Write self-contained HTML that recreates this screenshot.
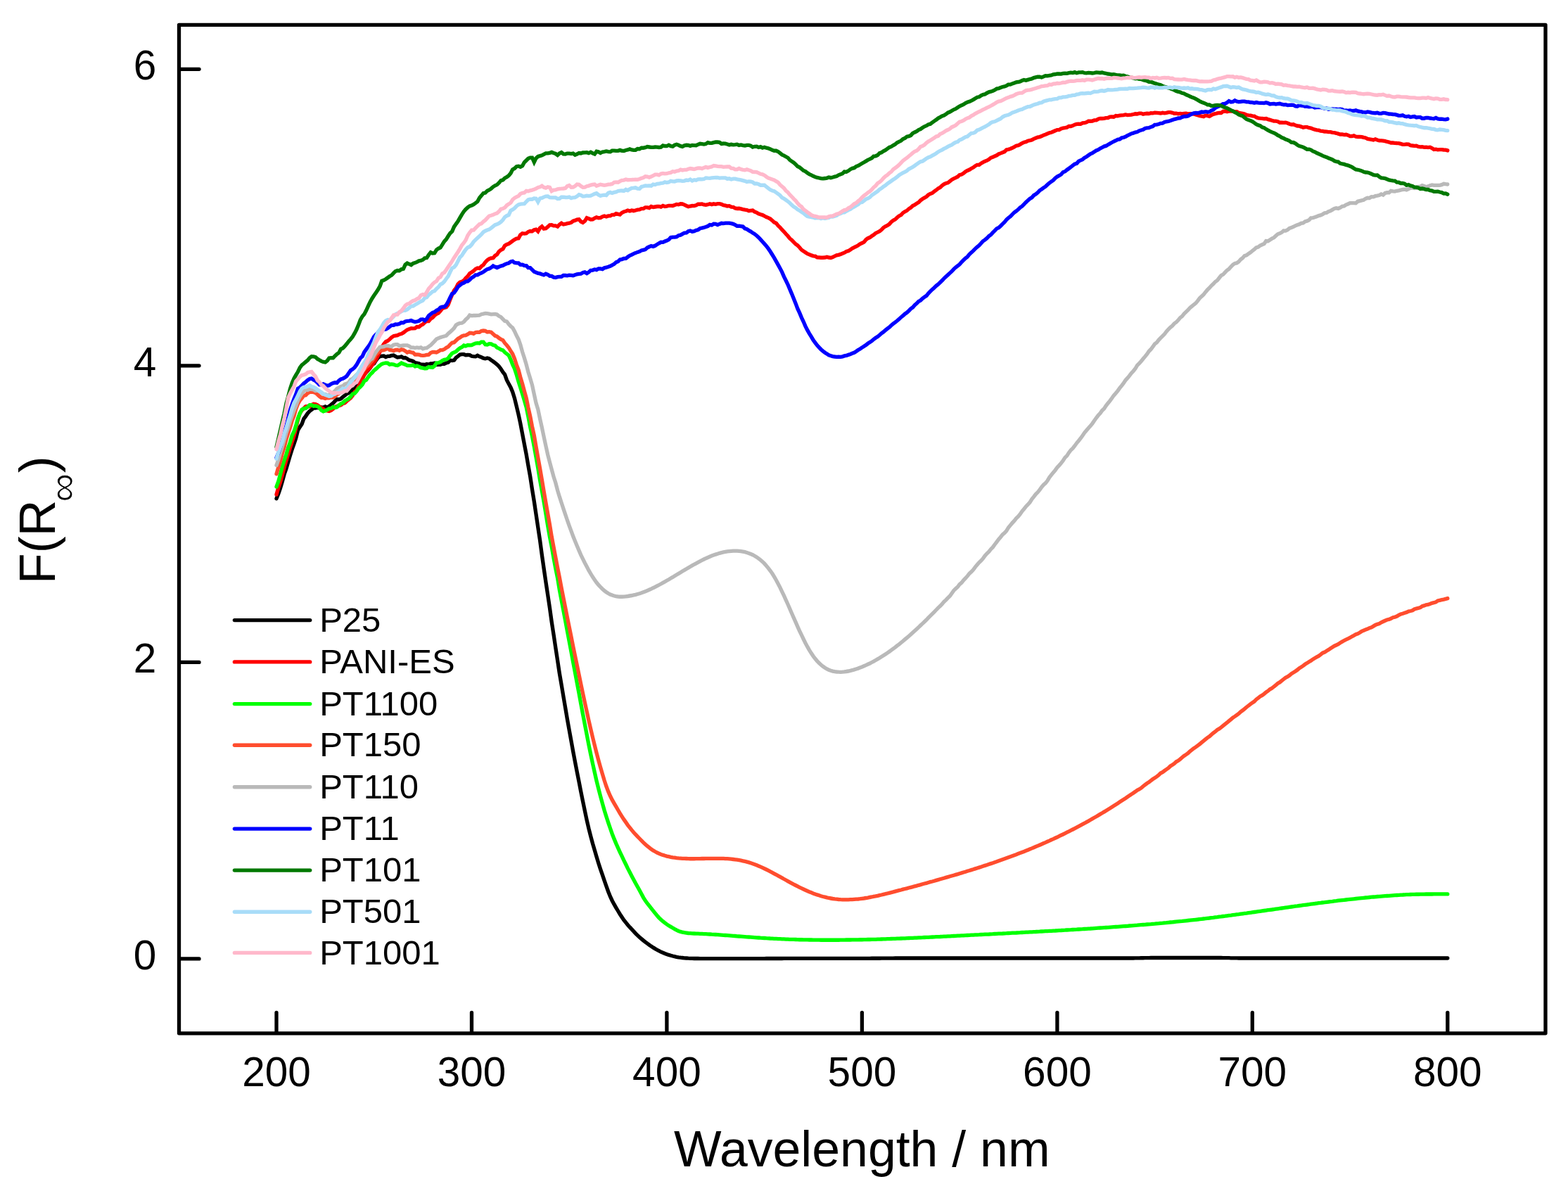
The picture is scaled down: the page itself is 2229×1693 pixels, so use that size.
<!DOCTYPE html>
<html lang="en"><head><meta charset="utf-8"><title>F(R∞) – Wavelength / nm</title>
<style>
html,body{margin:0;padding:0;background:#fff;}
body{width:2229px;height:1693px;overflow:hidden;}
svg{display:block;}
text{font-family:"Liberation Sans",Arial,Helvetica,sans-serif;fill:#000;}
.tick{font-size:58.5px;}
.leg{font-size:49px;}
.title{font-size:71.6px;}
.curve{fill:none;stroke-width:5.35;stroke-linejoin:miter;stroke-miterlimit:3;stroke-linecap:round;}
</style></head>
<body>
<svg xmlns="http://www.w3.org/2000/svg" width="2229" height="1693" viewBox="0 0 2229 1693">
<rect x="0" y="0" width="2229" height="1693" fill="#ffffff"/>
<g id="curves">
<path class="curve" stroke="#000000" d="M393.0,708.8 L395.8,701.9 L398.5,694.0 L401.3,684.5 L404.1,674.2 L406.9,666.3 L409.6,657.0 L412.4,647.5 L415.2,638.7 L418.0,630.9 L420.7,622.7 L423.5,611.5 L426.3,606.9 L429.1,602.7 L431.8,595.3 L434.6,591.6 L437.4,587.4 L440.2,584.4 L442.9,582.4 L445.7,580.1 L448.5,580.1 L451.3,579.5 L454.0,579.7 L456.8,578.9 L459.6,579.3 L462.4,578.0 L465.1,579.2 L467.9,577.4 L470.7,575.4 L473.5,573.0 L476.2,570.1 L479.0,567.5 L481.8,567.7 L484.6,566.8 L487.3,564.3 L490.1,562.2 L492.9,559.9 L495.7,558.6 L498.4,556.5 L501.2,553.7 L504.0,551.9 L506.8,548.0 L509.5,545.2 L512.3,543.1 L515.1,537.4 L517.9,532.4 L520.6,529.3 L523.4,526.2 L526.2,523.0 L529.0,518.4 L531.7,516.7 L534.5,512.4 L537.3,508.7 L540.1,506.6 L542.8,506.1 L545.6,505.9 L548.4,507.6 L551.2,506.4 L553.9,506.3 L556.7,505.4 L559.5,505.0 L562.3,506.6 L565.0,508.0 L567.8,507.7 L570.6,506.9 L573.4,508.7 L576.1,508.5 L578.9,510.0 L581.7,511.9 L584.5,512.6 L587.2,513.5 L590.0,515.6 L592.8,516.1 L595.6,516.7 L598.3,518.1 L601.1,518.1 L603.9,518.5 L606.6,517.6 L609.4,518.2 L612.2,516.9 L615.0,516.8 L617.7,516.2 L620.5,518.5 L623.3,518.3 L626.1,518.4 L628.8,517.0 L631.6,517.3 L634.4,515.9 L637.2,515.2 L639.9,512.2 L642.7,512.6 L645.5,512.1 L648.3,508.3 L651.0,506.3 L653.8,504.1 L656.6,503.6 L659.4,503.7 L662.1,504.7 L664.9,504.5 L667.7,504.6 L670.5,506.3 L673.2,506.7 L676.0,506.9 L678.8,505.4 L681.6,506.9 L684.3,507.8 L687.1,509.1 L689.9,509.8 L692.7,509.0 L695.4,509.6 L698.2,511.9 L701.0,513.8 L703.8,515.9 L706.5,518.1 L709.3,520.8 L712.1,524.5 L714.9,528.9 L717.6,532.3 L720.4,540.1 L723.2,545.6 L726.0,550.7 L728.7,557.2 L731.5,566.2 L734.3,577.6 L737.1,589.4 L739.8,602.0 L742.6,616.8 L745.4,631.5 L748.2,646.1 L750.9,661.8 L753.7,677.3 L756.5,695.6 L759.3,712.7 L762.0,730.8 L764.8,749.7 L767.6,768.2 L770.4,789.2 L773.1,808.0 L775.9,827.2 L778.7,845.7 L781.5,864.3 L784.2,883.8 L787.0,901.9 L789.8,920.6 L792.6,938.8 L795.3,956.8 L798.1,973.1 L800.9,989.9 L803.7,1006.2 L806.4,1022.2 L809.2,1037.9 L812.0,1053.2 L814.7,1068.2 L817.5,1083.0 L820.3,1097.4 L823.1,1111.6 L825.8,1125.5 L828.6,1139.2 L831.4,1152.8 L834.2,1166.0 L836.9,1177.7 L839.7,1188.6 L842.5,1199.0 L845.3,1208.5 L848.0,1217.8 L850.8,1227.0 L853.6,1235.6 L856.4,1243.7 L859.1,1251.6 L861.9,1259.6 L864.7,1267.5 L867.5,1274.4 L870.2,1280.2 L873.0,1285.4 L875.8,1290.3 L878.6,1295.0 L881.3,1299.5 L884.1,1303.8 L886.9,1307.9 L889.7,1311.4 L892.4,1314.7 L895.2,1317.9 L898.0,1320.9 L900.8,1323.9 L903.5,1326.8 L906.3,1329.6 L909.1,1332.2 L911.9,1334.6 L914.6,1336.9 L917.4,1339.1 L920.2,1341.2 L923.0,1343.2 L925.7,1345.1 L928.5,1346.9 L931.3,1348.6 L934.1,1350.2 L936.8,1351.7 L939.6,1353.1 L942.4,1354.3 L945.2,1355.4 L947.9,1356.4 L950.7,1357.4 L953.5,1358.2 L956.3,1359.0 L959.0,1359.7 L961.8,1360.3 L964.6,1360.8 L967.4,1361.2 L970.1,1361.5 L972.9,1361.8 L975.7,1362.0 L978.5,1362.2 L981.2,1362.3 L984.0,1362.4 L986.8,1362.5 L989.6,1362.5 L992.3,1362.5 L995.1,1362.6 L997.9,1362.6 L1000.7,1362.6 L1003.4,1362.6 L1006.2,1362.6 L1009.0,1362.6 L1011.8,1362.6 L1014.5,1362.6 L1017.3,1362.6 L1020.1,1362.6 L1022.8,1362.6 L1025.6,1362.6 L1028.4,1362.6 L1031.2,1362.6 L1033.9,1362.6 L1036.7,1362.6 L1039.5,1362.6 L1042.3,1362.6 L1045.0,1362.6 L1047.8,1362.6 L1050.6,1362.6 L1053.4,1362.6 L1056.1,1362.6 L1058.9,1362.6 L1061.7,1362.6 L1064.5,1362.6 L1067.2,1362.6 L1070.0,1362.6 L1072.8,1362.6 L1075.6,1362.6 L1078.3,1362.6 L1081.1,1362.6 L1083.9,1362.6 L1086.7,1362.6 L1089.4,1362.5 L1092.2,1362.5 L1095.0,1362.5 L1097.8,1362.5 L1100.5,1362.5 L1103.3,1362.5 L1106.1,1362.5 L1108.9,1362.5 L1111.6,1362.5 L1114.4,1362.4 L1117.2,1362.4 L1120.0,1362.4 L1122.7,1362.4 L1125.5,1362.4 L1128.3,1362.4 L1131.1,1362.4 L1133.8,1362.4 L1136.6,1362.4 L1139.4,1362.4 L1142.2,1362.4 L1144.9,1362.4 L1147.7,1362.4 L1150.5,1362.4 L1153.3,1362.4 L1156.0,1362.4 L1158.8,1362.4 L1161.6,1362.4 L1164.4,1362.4 L1167.1,1362.4 L1169.9,1362.4 L1172.7,1362.4 L1175.5,1362.4 L1178.2,1362.4 L1181.0,1362.4 L1183.8,1362.4 L1186.6,1362.4 L1189.3,1362.4 L1192.1,1362.4 L1194.9,1362.4 L1197.7,1362.4 L1200.4,1362.4 L1203.2,1362.4 L1206.0,1362.4 L1208.8,1362.4 L1211.5,1362.4 L1214.3,1362.4 L1217.1,1362.4 L1219.9,1362.4 L1222.6,1362.3 L1225.4,1362.3 L1228.2,1362.3 L1230.9,1362.3 L1233.7,1362.3 L1236.5,1362.3 L1239.3,1362.2 L1242.0,1362.2 L1244.8,1362.2 L1247.6,1362.2 L1250.4,1362.2 L1253.1,1362.1 L1255.9,1362.1 L1258.7,1362.1 L1261.5,1362.1 L1264.2,1362.1 L1267.0,1362.1 L1269.8,1362.1 L1272.6,1362.0 L1275.3,1362.0 L1278.1,1362.0 L1280.9,1362.0 L1283.7,1362.0 L1286.4,1362.0 L1289.2,1362.0 L1292.0,1362.0 L1294.8,1362.0 L1297.5,1362.0 L1300.3,1362.0 L1303.1,1362.0 L1305.9,1362.0 L1308.6,1362.0 L1311.4,1362.0 L1314.2,1362.0 L1317.0,1362.0 L1319.7,1362.0 L1322.5,1362.0 L1325.3,1362.0 L1328.1,1362.0 L1330.8,1362.0 L1333.6,1362.0 L1336.4,1362.0 L1339.2,1362.0 L1341.9,1362.0 L1344.7,1362.0 L1347.5,1362.0 L1350.3,1362.0 L1353.0,1362.0 L1355.8,1362.0 L1358.6,1362.0 L1361.4,1362.0 L1364.1,1362.0 L1366.9,1362.0 L1369.7,1362.0 L1372.5,1362.0 L1375.2,1362.0 L1378.0,1362.0 L1380.8,1362.0 L1383.6,1362.0 L1386.3,1362.0 L1389.1,1362.0 L1391.9,1362.0 L1394.7,1362.0 L1397.4,1362.0 L1400.2,1362.0 L1403.0,1362.0 L1405.8,1362.0 L1408.5,1362.0 L1411.3,1362.0 L1414.1,1362.0 L1416.9,1362.0 L1419.6,1362.0 L1422.4,1362.0 L1425.2,1362.0 L1428.0,1362.0 L1430.7,1362.0 L1433.5,1362.0 L1436.3,1362.0 L1439.0,1362.0 L1441.8,1362.0 L1444.6,1362.0 L1447.4,1362.0 L1450.1,1362.0 L1452.9,1362.0 L1455.7,1362.0 L1458.5,1362.0 L1461.2,1362.0 L1464.0,1362.0 L1466.8,1362.0 L1469.6,1362.0 L1472.3,1362.0 L1475.1,1362.0 L1477.9,1362.0 L1480.7,1362.0 L1483.4,1362.0 L1486.2,1362.0 L1489.0,1362.0 L1491.8,1362.0 L1494.5,1362.0 L1497.3,1362.0 L1500.1,1362.0 L1502.9,1362.0 L1505.6,1362.0 L1508.4,1362.0 L1511.2,1362.0 L1514.0,1362.0 L1516.7,1362.0 L1519.5,1362.0 L1522.3,1362.0 L1525.1,1362.0 L1527.8,1362.0 L1530.6,1362.0 L1533.4,1362.0 L1536.2,1362.0 L1538.9,1362.0 L1541.7,1362.0 L1544.5,1362.0 L1547.3,1362.0 L1550.0,1362.0 L1552.8,1362.0 L1555.6,1362.0 L1558.4,1362.0 L1561.1,1362.0 L1563.9,1362.0 L1566.7,1362.0 L1569.5,1362.0 L1572.2,1362.0 L1575.0,1362.0 L1577.8,1362.0 L1580.6,1362.0 L1583.3,1362.0 L1586.1,1362.0 L1588.9,1362.0 L1591.7,1362.0 L1594.4,1362.0 L1597.2,1362.0 L1600.0,1362.0 L1602.8,1362.0 L1605.5,1362.0 L1608.3,1362.0 L1611.1,1362.0 L1613.9,1361.9 L1616.6,1361.9 L1619.4,1361.8 L1622.2,1361.7 L1625.0,1361.7 L1627.7,1361.6 L1630.5,1361.6 L1633.3,1361.6 L1636.1,1361.5 L1638.8,1361.5 L1641.6,1361.5 L1644.4,1361.5 L1647.1,1361.5 L1649.9,1361.5 L1652.7,1361.5 L1655.5,1361.5 L1658.2,1361.5 L1661.0,1361.5 L1663.8,1361.5 L1666.6,1361.5 L1669.3,1361.5 L1672.1,1361.5 L1674.9,1361.5 L1677.7,1361.5 L1680.4,1361.5 L1683.2,1361.5 L1686.0,1361.5 L1688.8,1361.5 L1691.5,1361.5 L1694.3,1361.5 L1697.1,1361.5 L1699.9,1361.5 L1702.6,1361.5 L1705.4,1361.5 L1708.2,1361.5 L1711.0,1361.5 L1713.7,1361.5 L1716.5,1361.5 L1719.3,1361.5 L1722.1,1361.5 L1724.8,1361.5 L1727.6,1361.5 L1730.4,1361.5 L1733.2,1361.5 L1735.9,1361.5 L1738.7,1361.6 L1741.5,1361.6 L1744.3,1361.6 L1747.0,1361.7 L1749.8,1361.8 L1752.6,1361.8 L1755.4,1361.9 L1758.1,1361.9 L1760.9,1362.0 L1763.7,1362.0 L1766.5,1362.0 L1769.2,1362.0 L1772.0,1362.0 L1774.8,1362.0 L1777.6,1362.0 L1780.3,1362.0 L1783.1,1362.0 L1785.9,1362.0 L1788.7,1362.0 L1791.4,1362.0 L1794.2,1362.0 L1797.0,1362.0 L1799.8,1362.0 L1802.5,1362.0 L1805.3,1362.0 L1808.1,1362.0 L1810.9,1362.0 L1813.6,1362.0 L1816.4,1362.0 L1819.2,1362.0 L1822.0,1362.0 L1824.7,1362.0 L1827.5,1362.0 L1830.3,1362.0 L1833.1,1362.0 L1835.8,1362.0 L1838.6,1362.0 L1841.4,1362.0 L1844.2,1362.0 L1846.9,1362.0 L1849.7,1362.0 L1852.5,1362.0 L1855.2,1362.0 L1858.0,1362.0 L1860.8,1362.0 L1863.6,1362.0 L1866.3,1362.0 L1869.1,1362.0 L1871.9,1362.0 L1874.7,1362.0 L1877.4,1362.0 L1880.2,1362.0 L1883.0,1362.0 L1885.8,1362.0 L1888.5,1362.0 L1891.3,1362.0 L1894.1,1362.0 L1896.9,1362.0 L1899.6,1362.0 L1902.4,1362.0 L1905.2,1362.0 L1908.0,1362.0 L1910.7,1362.0 L1913.5,1362.0 L1916.3,1362.0 L1919.1,1362.0 L1921.8,1362.0 L1924.6,1362.0 L1927.4,1362.0 L1930.2,1362.0 L1932.9,1362.0 L1935.7,1362.0 L1938.5,1362.0 L1941.3,1362.0 L1944.0,1362.0 L1946.8,1362.0 L1949.6,1362.0 L1952.4,1362.0 L1955.1,1362.0 L1957.9,1362.0 L1960.7,1362.0 L1963.5,1362.0 L1966.2,1362.0 L1969.0,1362.0 L1971.8,1362.0 L1974.6,1362.0 L1977.3,1362.0 L1980.1,1362.0 L1982.9,1362.0 L1985.7,1362.0 L1988.4,1362.0 L1991.2,1362.0 L1994.0,1362.0 L1996.8,1362.0 L1999.5,1362.0 L2002.3,1362.0 L2005.1,1362.0 L2007.9,1362.0 L2010.6,1362.0 L2013.4,1362.0 L2016.2,1362.0 L2019.0,1362.0 L2021.7,1362.0 L2024.5,1362.0 L2027.3,1362.0 L2030.1,1362.0 L2032.8,1362.0 L2035.6,1362.0 L2038.4,1362.0 L2041.2,1362.0 L2043.9,1362.0 L2046.7,1362.0 L2049.5,1362.0 L2052.3,1362.0 L2055.0,1362.0 L2057.8,1362.0"/>
<path class="curve" stroke="#ff0000" d="M393.0,703.0 L395.8,693.0 L398.5,685.3 L401.3,675.4 L404.1,664.5 L406.9,654.6 L409.6,645.9 L412.4,636.7 L415.2,627.9 L418.0,619.8 L420.7,608.7 L423.5,596.6 L426.3,587.4 L429.1,583.3 L431.8,580.5 L434.6,577.8 L437.4,577.5 L440.2,577.7 L442.9,575.6 L445.7,574.3 L448.5,574.7 L451.3,575.9 L454.0,577.9 L456.8,579.9 L459.6,581.4 L462.4,583.4 L465.1,583.9 L467.9,584.4 L470.7,583.3 L473.5,581.3 L476.2,578.6 L479.0,577.5 L481.8,576.6 L484.6,575.9 L487.3,573.6 L490.1,572.9 L492.9,570.2 L495.7,567.9 L498.4,565.8 L501.2,562.3 L504.0,557.4 L506.8,555.2 L509.5,549.9 L512.3,544.7 L515.1,538.2 L517.9,532.8 L520.6,528.7 L523.4,525.2 L526.2,522.6 L529.0,518.8 L531.7,515.1 L534.5,511.2 L537.3,505.5 L540.1,500.1 L542.8,493.5 L545.6,489.0 L548.4,485.8 L551.2,484.5 L553.9,482.2 L556.7,479.6 L559.5,477.7 L562.3,477.2 L565.0,476.7 L567.8,475.2 L570.6,474.5 L573.4,472.9 L576.1,470.8 L578.9,468.9 L581.7,467.7 L584.5,466.7 L587.2,466.9 L590.0,466.7 L592.8,464.5 L595.6,464.7 L598.3,462.5 L601.1,461.0 L603.9,458.3 L606.6,456.5 L609.4,456.5 L612.2,453.3 L615.0,451.5 L617.7,448.4 L620.5,446.3 L623.3,445.0 L626.1,442.1 L628.8,438.5 L631.6,437.5 L634.4,436.6 L637.2,433.0 L639.9,425.6 L642.7,419.0 L645.5,413.0 L648.3,409.4 L651.0,403.9 L653.8,401.1 L656.6,400.4 L659.4,398.6 L662.1,395.4 L664.9,392.7 L667.7,388.7 L670.5,386.9 L673.2,385.1 L676.0,382.4 L678.8,381.0 L681.6,381.6 L684.3,378.6 L687.1,376.6 L689.9,372.7 L692.7,369.9 L695.4,368.0 L698.2,367.0 L701.0,366.7 L703.8,363.4 L706.5,361.8 L709.3,357.6 L712.1,355.3 L714.9,353.9 L717.6,349.2 L720.4,347.4 L723.2,346.5 L726.0,344.5 L728.7,342.5 L731.5,340.6 L734.3,339.1 L737.1,338.8 L739.8,333.8 L742.6,331.7 L745.4,332.1 L748.2,331.7 L750.9,329.5 L753.7,328.5 L756.5,328.8 L759.3,326.8 L762.0,326.1 L764.8,328.9 L767.6,324.1 L770.4,321.9 L773.1,325.1 L775.9,324.7 L778.7,322.4 L781.5,319.8 L784.2,319.7 L787.0,320.9 L789.8,320.9 L792.6,322.1 L795.3,319.2 L798.1,317.2 L800.9,319.0 L803.7,318.5 L806.4,317.7 L809.2,317.2 L812.0,316.4 L814.7,314.2 L817.5,313.4 L820.3,312.1 L823.1,311.8 L825.8,315.0 L828.6,316.4 L831.4,314.2 L834.2,309.8 L836.9,310.7 L839.7,312.0 L842.5,311.8 L845.3,310.2 L848.0,308.9 L850.8,309.7 L853.6,309.6 L856.4,307.9 L859.1,307.0 L861.9,308.0 L864.7,306.9 L867.5,306.9 L870.2,305.3 L873.0,305.3 L875.8,303.7 L878.6,304.4 L881.3,305.1 L884.1,302.4 L886.9,301.0 L889.7,300.3 L892.4,299.1 L895.2,300.0 L898.0,299.1 L900.8,299.7 L903.5,299.0 L906.3,298.1 L909.1,297.9 L911.9,296.6 L914.6,296.5 L917.4,294.8 L920.2,294.8 L923.0,295.5 L925.7,293.5 L928.5,294.5 L931.3,294.0 L934.1,293.5 L936.8,293.4 L939.6,294.1 L942.4,292.5 L945.2,293.5 L947.9,293.1 L950.7,292.3 L953.5,292.3 L956.3,292.5 L959.0,291.4 L961.8,290.4 L964.6,290.8 L967.4,289.8 L970.1,290.0 L972.9,291.1 L975.7,292.5 L978.5,293.7 L981.2,293.0 L984.0,292.5 L986.8,292.6 L989.6,291.7 L992.3,290.1 L995.1,290.2 L997.9,289.9 L1000.7,291.0 L1003.4,291.4 L1006.2,290.7 L1009.0,289.8 L1011.8,290.6 L1014.5,289.8 L1017.3,290.3 L1020.1,289.6 L1022.8,289.7 L1025.6,290.3 L1028.4,291.7 L1031.2,292.1 L1033.9,293.0 L1036.7,292.7 L1039.5,294.1 L1042.3,294.3 L1045.0,296.0 L1047.8,296.5 L1050.6,296.3 L1053.4,296.9 L1056.1,297.6 L1058.9,298.2 L1061.7,298.5 L1064.5,299.7 L1067.2,299.3 L1070.0,299.1 L1072.8,301.1 L1075.6,302.1 L1078.3,303.7 L1081.1,304.7 L1083.9,305.6 L1086.7,307.0 L1089.4,308.5 L1092.2,309.6 L1095.0,311.1 L1097.8,313.4 L1100.5,315.9 L1103.3,317.2 L1106.1,320.7 L1108.9,323.3 L1111.6,326.5 L1114.4,329.3 L1117.2,332.5 L1120.0,335.5 L1122.7,339.0 L1125.5,341.3 L1128.3,344.2 L1131.1,346.9 L1133.8,348.9 L1136.6,351.7 L1139.4,355.1 L1142.2,357.0 L1144.9,358.7 L1147.7,360.7 L1150.5,361.7 L1153.3,362.9 L1156.0,363.8 L1158.8,364.2 L1161.6,365.8 L1164.4,366.0 L1167.1,366.2 L1169.9,366.2 L1172.7,366.0 L1175.5,365.3 L1178.2,366.0 L1181.0,366.4 L1183.8,365.4 L1186.6,364.1 L1189.3,362.9 L1192.1,362.3 L1194.9,361.4 L1197.7,360.2 L1200.4,359.2 L1203.2,357.4 L1206.0,356.7 L1208.8,354.9 L1211.5,353.1 L1214.3,351.6 L1217.1,350.3 L1219.9,348.8 L1222.6,346.9 L1225.4,345.5 L1228.2,344.2 L1230.9,340.8 L1233.7,338.7 L1236.5,337.6 L1239.3,335.5 L1242.0,333.8 L1244.8,331.4 L1247.6,330.1 L1250.4,328.7 L1253.1,326.5 L1255.9,323.6 L1258.7,321.8 L1261.5,320.4 L1264.2,318.6 L1267.0,315.4 L1269.8,313.3 L1272.6,311.9 L1275.3,309.3 L1278.1,307.0 L1280.9,305.5 L1283.7,302.5 L1286.4,300.8 L1289.2,299.4 L1292.0,296.8 L1294.8,295.1 L1297.5,292.5 L1300.3,291.2 L1303.1,289.2 L1305.9,287.6 L1308.6,284.9 L1311.4,282.8 L1314.2,281.1 L1317.0,279.5 L1319.7,277.0 L1322.5,275.4 L1325.3,274.4 L1328.1,272.2 L1330.8,270.2 L1333.6,267.9 L1336.4,266.5 L1339.2,263.9 L1341.9,261.9 L1344.7,260.5 L1347.5,259.8 L1350.3,257.6 L1353.0,255.4 L1355.8,253.9 L1358.6,252.7 L1361.4,251.2 L1364.1,248.6 L1366.9,248.0 L1369.7,246.3 L1372.5,244.0 L1375.2,242.5 L1378.0,241.3 L1380.8,239.5 L1383.6,238.0 L1386.3,235.9 L1389.1,234.3 L1391.9,234.3 L1394.7,232.2 L1397.4,230.6 L1400.2,229.3 L1403.0,228.2 L1405.8,226.5 L1408.5,224.3 L1411.3,223.2 L1414.1,222.0 L1416.9,220.8 L1419.6,219.0 L1422.4,217.9 L1425.2,216.7 L1428.0,215.6 L1430.7,212.9 L1433.5,212.4 L1436.3,211.5 L1439.0,210.3 L1441.8,208.8 L1444.6,207.2 L1447.4,206.6 L1450.1,205.3 L1452.9,203.5 L1455.7,202.2 L1458.5,201.7 L1461.2,200.2 L1464.0,199.7 L1466.8,198.9 L1469.6,197.4 L1472.3,196.2 L1475.1,195.2 L1477.9,194.6 L1480.7,193.6 L1483.4,192.1 L1486.2,191.2 L1489.0,190.0 L1491.8,188.8 L1494.5,188.3 L1497.3,187.0 L1500.1,185.7 L1502.9,184.6 L1505.6,184.6 L1508.4,183.0 L1511.2,182.0 L1514.0,181.6 L1516.7,181.1 L1519.5,179.5 L1522.3,179.5 L1525.1,178.6 L1527.8,177.2 L1530.6,176.4 L1533.4,176.2 L1536.2,176.3 L1538.9,174.9 L1541.7,174.7 L1544.5,173.8 L1547.3,172.2 L1550.0,172.2 L1552.8,172.0 L1555.6,170.9 L1558.4,170.8 L1561.1,169.3 L1563.9,168.5 L1566.7,168.5 L1569.5,168.4 L1572.2,167.6 L1575.0,167.5 L1577.8,166.1 L1580.6,166.0 L1583.3,166.2 L1586.1,164.5 L1588.9,164.9 L1591.7,164.2 L1594.4,163.9 L1597.2,163.6 L1600.0,163.0 L1602.8,163.6 L1605.5,163.3 L1608.3,163.2 L1611.1,162.5 L1613.9,161.8 L1616.6,162.0 L1619.4,161.1 L1622.2,161.1 L1625.0,162.2 L1627.7,161.7 L1630.5,161.3 L1633.3,161.5 L1636.1,160.7 L1638.8,160.8 L1641.6,160.2 L1644.4,160.3 L1647.1,160.6 L1649.9,161.0 L1652.7,160.3 L1655.5,160.8 L1658.2,160.4 L1661.0,159.6 L1663.8,159.6 L1666.6,160.3 L1669.3,161.2 L1672.1,161.2 L1674.9,161.8 L1677.7,161.4 L1680.4,161.9 L1683.2,161.5 L1686.0,161.2 L1688.8,161.9 L1691.5,161.6 L1694.3,161.6 L1697.1,162.2 L1699.9,162.9 L1702.6,163.8 L1705.4,164.7 L1708.2,165.2 L1711.0,165.7 L1713.7,164.2 L1716.5,164.6 L1719.3,165.3 L1722.1,163.7 L1724.8,162.3 L1727.6,161.7 L1730.4,160.9 L1733.2,160.4 L1735.9,160.5 L1738.7,158.3 L1741.5,158.0 L1744.3,158.8 L1747.0,158.2 L1749.8,158.1 L1752.6,158.1 L1755.4,158.9 L1758.1,158.7 L1760.9,160.3 L1763.7,160.8 L1766.5,161.3 L1769.2,162.0 L1772.0,163.4 L1774.8,163.8 L1777.6,164.1 L1780.3,164.8 L1783.1,165.1 L1785.9,166.9 L1788.7,167.8 L1791.4,168.2 L1794.2,168.4 L1797.0,168.9 L1799.8,168.6 L1802.5,169.6 L1805.3,170.4 L1808.1,171.2 L1810.9,172.1 L1813.6,172.2 L1816.4,172.7 L1819.2,174.2 L1822.0,174.1 L1824.7,174.3 L1827.5,174.1 L1830.3,175.1 L1833.1,176.3 L1835.8,177.1 L1838.6,176.8 L1841.4,178.1 L1844.2,179.0 L1846.9,179.2 L1849.7,180.1 L1852.5,181.2 L1855.2,180.6 L1858.0,180.6 L1860.8,181.7 L1863.6,182.2 L1866.3,183.2 L1869.1,184.2 L1871.9,184.9 L1874.7,185.2 L1877.4,186.2 L1880.2,186.3 L1883.0,187.0 L1885.8,187.2 L1888.5,187.6 L1891.3,187.7 L1894.1,188.4 L1896.9,188.6 L1899.6,189.3 L1902.4,190.1 L1905.2,191.0 L1908.0,191.0 L1910.7,191.6 L1913.5,191.3 L1916.3,192.2 L1919.1,193.6 L1921.8,193.5 L1924.6,192.9 L1927.4,194.1 L1930.2,194.5 L1932.9,194.4 L1935.7,194.6 L1938.5,195.4 L1941.3,196.0 L1944.0,197.4 L1946.8,197.9 L1949.6,198.4 L1952.4,198.9 L1955.1,197.8 L1957.9,199.0 L1960.7,199.8 L1963.5,199.8 L1966.2,200.1 L1969.0,200.6 L1971.8,201.5 L1974.6,202.0 L1977.3,203.0 L1980.1,203.0 L1982.9,203.3 L1985.7,203.5 L1988.4,203.6 L1991.2,204.4 L1994.0,205.3 L1996.8,205.4 L1999.5,204.9 L2002.3,205.2 L2005.1,206.7 L2007.9,207.0 L2010.6,207.3 L2013.4,207.2 L2016.2,208.4 L2019.0,208.8 L2021.7,208.7 L2024.5,209.3 L2027.3,209.1 L2030.1,209.6 L2032.8,209.2 L2035.6,210.5 L2038.4,212.4 L2041.2,212.1 L2043.9,212.8 L2046.7,212.6 L2049.5,212.7 L2052.3,213.0 L2055.0,213.1 L2057.8,213.9"/>
<path class="curve" stroke="#00ff00" d="M393.0,691.9 L395.8,684.2 L398.5,674.2 L401.3,663.3 L404.1,654.3 L406.9,646.0 L409.6,636.7 L412.4,628.8 L415.2,618.9 L418.0,613.3 L420.7,605.2 L423.5,594.7 L426.3,587.7 L429.1,582.2 L431.8,580.8 L434.6,580.4 L437.4,578.4 L440.2,575.7 L442.9,575.6 L445.7,577.3 L448.5,576.9 L451.3,577.6 L454.0,579.5 L456.8,583.3 L459.6,584.9 L462.4,583.8 L465.1,582.6 L467.9,580.8 L470.7,580.4 L473.5,578.4 L476.2,579.4 L479.0,578.8 L481.8,576.1 L484.6,573.9 L487.3,572.7 L490.1,569.8 L492.9,568.2 L495.7,566.5 L498.4,564.0 L501.2,560.0 L504.0,559.3 L506.8,556.4 L509.5,552.3 L512.3,549.9 L515.1,546.7 L517.9,541.6 L520.6,540.2 L523.4,536.1 L526.2,532.3 L529.0,529.8 L531.7,526.6 L534.5,524.4 L537.3,521.7 L540.1,519.4 L542.8,517.4 L545.6,516.5 L548.4,515.9 L551.2,516.2 L553.9,518.1 L556.7,517.6 L559.5,518.0 L562.3,519.2 L565.0,519.5 L567.8,518.0 L570.6,516.0 L573.4,517.3 L576.1,518.2 L578.9,519.6 L581.7,519.6 L584.5,519.6 L587.2,518.9 L590.0,520.9 L592.8,520.1 L595.6,521.1 L598.3,522.6 L601.1,523.2 L603.9,523.7 L606.6,523.6 L609.4,521.6 L612.2,522.1 L615.0,522.2 L617.7,520.1 L620.5,515.8 L623.3,515.7 L626.1,514.6 L628.8,512.6 L631.6,511.4 L634.4,511.0 L637.2,509.2 L639.9,505.5 L642.7,502.2 L645.5,500.9 L648.3,499.7 L651.0,497.0 L653.8,494.9 L656.6,493.5 L659.4,491.0 L662.1,491.9 L664.9,490.5 L667.7,490.7 L670.5,490.5 L673.2,489.3 L676.0,488.1 L678.8,487.7 L681.6,488.0 L684.3,486.1 L687.1,486.1 L689.9,489.6 L692.7,489.9 L695.4,488.8 L698.2,488.9 L701.0,490.6 L703.8,491.2 L706.5,494.1 L709.3,495.3 L712.1,497.1 L714.9,497.8 L717.6,500.8 L720.4,503.0 L723.2,505.2 L726.0,511.1 L728.7,518.2 L731.5,524.1 L734.3,532.7 L737.1,542.5 L739.8,550.8 L742.6,560.0 L745.4,569.3 L748.2,579.0 L750.9,592.1 L753.7,606.9 L756.5,620.1 L759.3,634.8 L762.0,649.7 L764.8,665.6 L767.6,682.6 L770.4,698.1 L773.1,713.0 L775.9,730.0 L778.7,747.4 L781.5,763.2 L784.2,777.0 L787.0,793.1 L789.8,808.0 L792.6,821.6 L795.3,838.3 L798.1,853.0 L800.9,867.8 L803.7,882.5 L806.4,897.1 L809.2,911.8 L812.0,926.5 L814.7,941.3 L817.5,956.1 L820.3,970.9 L823.1,985.8 L825.8,1000.6 L828.6,1015.4 L831.4,1030.0 L834.2,1044.4 L836.9,1058.4 L839.7,1072.1 L842.5,1085.2 L845.3,1097.8 L848.0,1109.8 L850.8,1121.2 L853.6,1131.9 L856.4,1142.1 L859.1,1151.7 L861.9,1160.8 L864.7,1169.4 L867.5,1177.5 L870.2,1185.2 L873.0,1192.4 L875.8,1199.1 L878.6,1205.3 L881.3,1211.3 L884.1,1217.2 L886.9,1223.1 L889.7,1228.8 L892.4,1234.4 L895.2,1239.8 L898.0,1245.2 L900.8,1250.4 L903.5,1255.5 L906.3,1260.5 L909.1,1265.5 L911.9,1270.7 L914.6,1275.8 L917.4,1280.3 L920.2,1284.2 L923.0,1287.7 L925.7,1291.1 L928.5,1294.6 L931.3,1298.1 L934.1,1301.5 L936.8,1304.6 L939.6,1307.3 L942.4,1309.7 L945.2,1311.9 L947.9,1313.9 L950.7,1315.7 L953.5,1317.4 L956.3,1319.0 L959.0,1320.6 L961.8,1322.1 L964.6,1323.4 L967.4,1324.4 L970.1,1325.2 L972.9,1325.7 L975.7,1326.1 L978.5,1326.5 L981.2,1326.7 L984.0,1326.9 L986.8,1327.0 L989.6,1327.1 L992.3,1327.2 L995.1,1327.3 L997.9,1327.4 L1000.7,1327.6 L1003.4,1327.7 L1006.2,1327.8 L1009.0,1328.0 L1011.8,1328.2 L1014.5,1328.3 L1017.3,1328.5 L1020.1,1328.7 L1022.8,1328.9 L1025.6,1329.1 L1028.4,1329.3 L1031.2,1329.5 L1033.9,1329.7 L1036.7,1329.9 L1039.5,1330.1 L1042.3,1330.3 L1045.0,1330.5 L1047.8,1330.8 L1050.6,1331.0 L1053.4,1331.2 L1056.1,1331.4 L1058.9,1331.6 L1061.7,1331.8 L1064.5,1332.0 L1067.2,1332.2 L1070.0,1332.4 L1072.8,1332.6 L1075.6,1332.8 L1078.3,1333.0 L1081.1,1333.2 L1083.9,1333.3 L1086.7,1333.5 L1089.4,1333.7 L1092.2,1333.8 L1095.0,1334.0 L1097.8,1334.1 L1100.5,1334.3 L1103.3,1334.4 L1106.1,1334.6 L1108.9,1334.7 L1111.6,1334.8 L1114.4,1334.9 L1117.2,1335.1 L1120.0,1335.2 L1122.7,1335.3 L1125.5,1335.3 L1128.3,1335.4 L1131.1,1335.5 L1133.8,1335.6 L1136.6,1335.7 L1139.4,1335.7 L1142.2,1335.8 L1144.9,1335.9 L1147.7,1335.9 L1150.5,1336.0 L1153.3,1336.0 L1156.0,1336.1 L1158.8,1336.1 L1161.6,1336.1 L1164.4,1336.1 L1167.1,1336.2 L1169.9,1336.2 L1172.7,1336.2 L1175.5,1336.2 L1178.2,1336.2 L1181.0,1336.2 L1183.8,1336.2 L1186.6,1336.2 L1189.3,1336.2 L1192.1,1336.2 L1194.9,1336.1 L1197.7,1336.1 L1200.4,1336.1 L1203.2,1336.0 L1206.0,1336.0 L1208.8,1336.0 L1211.5,1335.9 L1214.3,1335.9 L1217.1,1335.8 L1219.9,1335.8 L1222.6,1335.7 L1225.4,1335.7 L1228.2,1335.6 L1230.9,1335.6 L1233.7,1335.5 L1236.5,1335.5 L1239.3,1335.4 L1242.0,1335.3 L1244.8,1335.3 L1247.6,1335.2 L1250.4,1335.1 L1253.1,1335.0 L1255.9,1334.9 L1258.7,1334.8 L1261.5,1334.7 L1264.2,1334.6 L1267.0,1334.5 L1269.8,1334.4 L1272.6,1334.3 L1275.3,1334.2 L1278.1,1334.1 L1280.9,1334.0 L1283.7,1333.9 L1286.4,1333.8 L1289.2,1333.6 L1292.0,1333.5 L1294.8,1333.4 L1297.5,1333.3 L1300.3,1333.2 L1303.1,1333.1 L1305.9,1332.9 L1308.6,1332.8 L1311.4,1332.7 L1314.2,1332.5 L1317.0,1332.4 L1319.7,1332.3 L1322.5,1332.1 L1325.3,1332.0 L1328.1,1331.9 L1330.8,1331.7 L1333.6,1331.6 L1336.4,1331.5 L1339.2,1331.3 L1341.9,1331.2 L1344.7,1331.1 L1347.5,1330.9 L1350.3,1330.8 L1353.0,1330.6 L1355.8,1330.5 L1358.6,1330.4 L1361.4,1330.2 L1364.1,1330.1 L1366.9,1329.9 L1369.7,1329.8 L1372.5,1329.6 L1375.2,1329.5 L1378.0,1329.4 L1380.8,1329.2 L1383.6,1329.1 L1386.3,1328.9 L1389.1,1328.8 L1391.9,1328.7 L1394.7,1328.5 L1397.4,1328.4 L1400.2,1328.2 L1403.0,1328.1 L1405.8,1328.0 L1408.5,1327.8 L1411.3,1327.7 L1414.1,1327.5 L1416.9,1327.4 L1419.6,1327.2 L1422.4,1327.1 L1425.2,1327.0 L1428.0,1326.8 L1430.7,1326.7 L1433.5,1326.5 L1436.3,1326.4 L1439.0,1326.2 L1441.8,1326.1 L1444.6,1326.0 L1447.4,1325.8 L1450.1,1325.7 L1452.9,1325.5 L1455.7,1325.4 L1458.5,1325.2 L1461.2,1325.1 L1464.0,1324.9 L1466.8,1324.8 L1469.6,1324.6 L1472.3,1324.5 L1475.1,1324.3 L1477.9,1324.2 L1480.7,1324.0 L1483.4,1323.9 L1486.2,1323.7 L1489.0,1323.6 L1491.8,1323.4 L1494.5,1323.3 L1497.3,1323.1 L1500.1,1323.0 L1502.9,1322.8 L1505.6,1322.6 L1508.4,1322.5 L1511.2,1322.3 L1514.0,1322.2 L1516.7,1322.0 L1519.5,1321.8 L1522.3,1321.7 L1525.1,1321.5 L1527.8,1321.3 L1530.6,1321.2 L1533.4,1321.0 L1536.2,1320.8 L1538.9,1320.7 L1541.7,1320.5 L1544.5,1320.3 L1547.3,1320.1 L1550.0,1320.0 L1552.8,1319.8 L1555.6,1319.6 L1558.4,1319.4 L1561.1,1319.2 L1563.9,1319.0 L1566.7,1318.9 L1569.5,1318.7 L1572.2,1318.5 L1575.0,1318.3 L1577.8,1318.1 L1580.6,1317.9 L1583.3,1317.7 L1586.1,1317.5 L1588.9,1317.3 L1591.7,1317.1 L1594.4,1316.9 L1597.2,1316.7 L1600.0,1316.5 L1602.8,1316.3 L1605.5,1316.0 L1608.3,1315.8 L1611.1,1315.6 L1613.9,1315.4 L1616.6,1315.2 L1619.4,1314.9 L1622.2,1314.7 L1625.0,1314.5 L1627.7,1314.3 L1630.5,1314.0 L1633.3,1313.8 L1636.1,1313.6 L1638.8,1313.3 L1641.6,1313.1 L1644.4,1312.8 L1647.1,1312.6 L1649.9,1312.3 L1652.7,1312.1 L1655.5,1311.8 L1658.2,1311.6 L1661.0,1311.3 L1663.8,1311.0 L1666.6,1310.8 L1669.3,1310.5 L1672.1,1310.2 L1674.9,1309.9 L1677.7,1309.6 L1680.4,1309.4 L1683.2,1309.1 L1686.0,1308.8 L1688.8,1308.5 L1691.5,1308.2 L1694.3,1307.9 L1697.1,1307.6 L1699.9,1307.3 L1702.6,1307.0 L1705.4,1306.6 L1708.2,1306.3 L1711.0,1306.0 L1713.7,1305.7 L1716.5,1305.3 L1719.3,1305.0 L1722.1,1304.6 L1724.8,1304.3 L1727.6,1303.9 L1730.4,1303.6 L1733.2,1303.2 L1735.9,1302.9 L1738.7,1302.5 L1741.5,1302.2 L1744.3,1301.8 L1747.0,1301.4 L1749.8,1301.1 L1752.6,1300.7 L1755.4,1300.3 L1758.1,1299.9 L1760.9,1299.6 L1763.7,1299.2 L1766.5,1298.8 L1769.2,1298.4 L1772.0,1298.1 L1774.8,1297.7 L1777.6,1297.3 L1780.3,1296.9 L1783.1,1296.5 L1785.9,1296.1 L1788.7,1295.7 L1791.4,1295.3 L1794.2,1294.9 L1797.0,1294.5 L1799.8,1294.1 L1802.5,1293.7 L1805.3,1293.3 L1808.1,1293.0 L1810.9,1292.6 L1813.6,1292.2 L1816.4,1291.8 L1819.2,1291.4 L1822.0,1291.0 L1824.7,1290.6 L1827.5,1290.2 L1830.3,1289.8 L1833.1,1289.4 L1835.8,1289.0 L1838.6,1288.6 L1841.4,1288.2 L1844.2,1287.9 L1846.9,1287.5 L1849.7,1287.1 L1852.5,1286.7 L1855.2,1286.3 L1858.0,1286.0 L1860.8,1285.6 L1863.6,1285.2 L1866.3,1284.8 L1869.1,1284.5 L1871.9,1284.1 L1874.7,1283.7 L1877.4,1283.4 L1880.2,1283.0 L1883.0,1282.7 L1885.8,1282.3 L1888.5,1282.0 L1891.3,1281.6 L1894.1,1281.3 L1896.9,1280.9 L1899.6,1280.6 L1902.4,1280.2 L1905.2,1279.9 L1908.0,1279.6 L1910.7,1279.3 L1913.5,1279.0 L1916.3,1278.7 L1919.1,1278.4 L1921.8,1278.1 L1924.6,1277.8 L1927.4,1277.5 L1930.2,1277.2 L1932.9,1276.9 L1935.7,1276.6 L1938.5,1276.3 L1941.3,1276.0 L1944.0,1275.8 L1946.8,1275.5 L1949.6,1275.2 L1952.4,1275.0 L1955.1,1274.8 L1957.9,1274.5 L1960.7,1274.3 L1963.5,1274.1 L1966.2,1273.9 L1969.0,1273.7 L1971.8,1273.5 L1974.6,1273.3 L1977.3,1273.1 L1980.1,1272.9 L1982.9,1272.7 L1985.7,1272.5 L1988.4,1272.3 L1991.2,1272.1 L1994.0,1272.0 L1996.8,1271.8 L1999.5,1271.7 L2002.3,1271.6 L2005.1,1271.5 L2007.9,1271.4 L2010.6,1271.3 L2013.4,1271.2 L2016.2,1271.2 L2019.0,1271.1 L2021.7,1271.1 L2024.5,1271.1 L2027.3,1271.0 L2030.1,1271.0 L2032.8,1271.0 L2035.6,1271.0 L2038.4,1270.9 L2041.2,1270.9 L2043.9,1270.9 L2046.7,1270.9 L2049.5,1270.9 L2052.3,1270.9 L2055.0,1270.9 L2057.8,1270.9"/>
<path class="curve" stroke="#ff4d2e" d="M393.0,673.8 L395.8,664.1 L398.5,655.9 L401.3,644.7 L404.1,635.8 L406.9,624.5 L409.6,616.0 L412.4,607.6 L415.2,598.1 L418.0,591.2 L420.7,581.3 L423.5,574.2 L426.3,569.3 L429.1,566.1 L431.8,562.5 L434.6,561.9 L437.4,559.0 L440.2,557.4 L442.9,557.1 L445.7,557.4 L448.5,558.5 L451.3,560.8 L454.0,563.3 L456.8,565.3 L459.6,565.4 L462.4,566.5 L465.1,565.5 L467.9,565.8 L470.7,565.0 L473.5,565.0 L476.2,563.6 L479.0,561.0 L481.8,559.5 L484.6,557.4 L487.3,555.2 L490.1,553.8 L492.9,551.9 L495.7,550.5 L498.4,548.4 L501.2,545.1 L504.0,542.5 L506.8,537.8 L509.5,535.2 L512.3,531.9 L515.1,527.2 L517.9,525.2 L520.6,521.9 L523.4,519.6 L526.2,515.8 L529.0,512.8 L531.7,509.0 L534.5,504.0 L537.3,501.4 L540.1,498.2 L542.8,498.1 L545.6,497.7 L548.4,496.6 L551.2,494.9 L553.9,497.4 L556.7,497.8 L559.5,498.6 L562.3,497.5 L565.0,497.3 L567.8,498.4 L570.6,496.8 L573.4,497.2 L576.1,498.9 L578.9,501.0 L581.7,499.9 L584.5,500.8 L587.2,501.3 L590.0,504.0 L592.8,504.0 L595.6,504.2 L598.3,505.1 L601.1,505.4 L603.9,505.1 L606.6,504.5 L609.4,504.2 L612.2,501.5 L615.0,500.5 L617.7,500.5 L620.5,500.9 L623.3,499.5 L626.1,497.7 L628.8,497.5 L631.6,496.5 L634.4,494.3 L637.2,492.9 L639.9,489.9 L642.7,487.3 L645.5,486.7 L648.3,484.0 L651.0,481.5 L653.8,479.9 L656.6,477.9 L659.4,476.8 L662.1,476.7 L664.9,475.2 L667.7,473.3 L670.5,473.5 L673.2,474.4 L676.0,472.5 L678.8,472.2 L681.6,472.3 L684.3,470.6 L687.1,470.0 L689.9,470.4 L692.7,472.0 L695.4,471.7 L698.2,472.2 L701.0,474.7 L703.8,477.3 L706.5,478.1 L709.3,480.5 L712.1,482.3 L714.9,483.7 L717.6,487.7 L720.4,490.8 L723.2,494.2 L726.0,498.8 L728.7,503.1 L731.5,509.8 L734.3,518.6 L737.1,525.9 L739.8,536.2 L742.6,545.4 L745.4,555.9 L748.2,565.9 L750.9,579.3 L753.7,591.7 L756.5,606.2 L759.3,619.0 L762.0,634.6 L764.8,650.4 L767.6,666.0 L770.4,682.2 L773.1,698.4 L775.9,714.5 L778.7,730.3 L781.5,746.0 L784.2,762.6 L787.0,777.4 L789.8,792.3 L792.6,807.1 L795.3,820.5 L798.1,835.6 L800.9,849.7 L803.7,863.7 L806.4,877.6 L809.2,891.3 L812.0,905.0 L814.7,918.7 L817.5,932.3 L820.3,945.8 L823.1,959.2 L825.8,972.5 L828.6,985.7 L831.4,998.7 L834.2,1011.5 L836.9,1024.0 L839.7,1036.2 L842.5,1048.0 L845.3,1059.3 L848.0,1070.2 L850.8,1080.7 L853.6,1090.7 L856.4,1100.2 L859.1,1109.3 L861.9,1117.8 L864.7,1125.2 L867.5,1131.5 L870.2,1136.9 L873.0,1141.9 L875.8,1146.7 L878.6,1151.5 L881.3,1156.1 L884.1,1160.6 L886.9,1164.9 L889.7,1168.9 L892.4,1172.8 L895.2,1176.4 L898.0,1179.9 L900.8,1183.2 L903.5,1186.2 L906.3,1189.1 L909.1,1192.0 L911.9,1194.8 L914.6,1197.6 L917.4,1200.2 L920.2,1202.7 L923.0,1204.9 L925.7,1207.0 L928.5,1208.9 L931.3,1210.5 L934.1,1212.0 L936.8,1213.3 L939.6,1214.4 L942.4,1215.4 L945.2,1216.3 L947.9,1217.1 L950.7,1217.7 L953.5,1218.3 L956.3,1218.8 L959.0,1219.2 L961.8,1219.6 L964.6,1219.9 L967.4,1220.1 L970.1,1220.3 L972.9,1220.4 L975.7,1220.5 L978.5,1220.6 L981.2,1220.7 L984.0,1220.7 L986.8,1220.7 L989.6,1220.6 L992.3,1220.6 L995.1,1220.6 L997.9,1220.5 L1000.7,1220.5 L1003.4,1220.4 L1006.2,1220.4 L1009.0,1220.3 L1011.8,1220.3 L1014.5,1220.3 L1017.3,1220.3 L1020.1,1220.3 L1022.8,1220.3 L1025.6,1220.4 L1028.4,1220.4 L1031.2,1220.6 L1033.9,1220.7 L1036.7,1220.9 L1039.5,1221.2 L1042.3,1221.5 L1045.0,1221.8 L1047.8,1222.2 L1050.6,1222.7 L1053.4,1223.2 L1056.1,1223.8 L1058.9,1224.4 L1061.7,1225.1 L1064.5,1225.9 L1067.2,1226.8 L1070.0,1227.7 L1072.8,1228.7 L1075.6,1229.8 L1078.3,1230.9 L1081.1,1232.1 L1083.9,1233.4 L1086.7,1234.7 L1089.4,1236.0 L1092.2,1237.4 L1095.0,1238.9 L1097.8,1240.3 L1100.5,1241.8 L1103.3,1243.3 L1106.1,1244.9 L1108.9,1246.4 L1111.6,1247.9 L1114.4,1249.5 L1117.2,1251.0 L1120.0,1252.6 L1122.7,1254.1 L1125.5,1255.6 L1128.3,1257.1 L1131.1,1258.5 L1133.8,1259.9 L1136.6,1261.3 L1139.4,1262.7 L1142.2,1264.0 L1144.9,1265.2 L1147.7,1266.5 L1150.5,1267.7 L1153.3,1268.8 L1156.0,1269.9 L1158.8,1270.9 L1161.6,1271.9 L1164.4,1272.8 L1167.1,1273.7 L1169.9,1274.5 L1172.7,1275.2 L1175.5,1275.9 L1178.2,1276.5 L1181.0,1277.0 L1183.8,1277.5 L1186.6,1277.9 L1189.3,1278.2 L1192.1,1278.5 L1194.9,1278.7 L1197.7,1278.8 L1200.4,1278.9 L1203.2,1278.9 L1206.0,1278.8 L1208.8,1278.7 L1211.5,1278.6 L1214.3,1278.4 L1217.1,1278.2 L1219.9,1278.0 L1222.6,1277.7 L1225.4,1277.3 L1228.2,1277.0 L1230.9,1276.5 L1233.7,1276.1 L1236.5,1275.5 L1239.3,1275.0 L1242.0,1274.4 L1244.8,1273.9 L1247.6,1273.3 L1250.4,1272.6 L1253.1,1272.0 L1255.9,1271.3 L1258.7,1270.7 L1261.5,1270.0 L1264.2,1269.3 L1267.0,1268.6 L1269.8,1267.9 L1272.6,1267.1 L1275.3,1266.4 L1278.1,1265.7 L1280.9,1265.0 L1283.7,1264.2 L1286.4,1263.5 L1289.2,1262.8 L1292.0,1262.0 L1294.8,1261.3 L1297.5,1260.6 L1300.3,1259.8 L1303.1,1259.1 L1305.9,1258.3 L1308.6,1257.6 L1311.4,1256.8 L1314.2,1256.0 L1317.0,1255.3 L1319.7,1254.5 L1322.5,1253.7 L1325.3,1253.0 L1328.1,1252.2 L1330.8,1251.4 L1333.6,1250.6 L1336.4,1249.8 L1339.2,1249.0 L1341.9,1248.2 L1344.7,1247.4 L1347.5,1246.6 L1350.3,1245.8 L1353.0,1245.0 L1355.8,1244.2 L1358.6,1243.4 L1361.4,1242.6 L1364.1,1241.7 L1366.9,1240.9 L1369.7,1240.0 L1372.5,1239.2 L1375.2,1238.3 L1378.0,1237.5 L1380.8,1236.6 L1383.6,1235.8 L1386.3,1234.9 L1389.1,1234.0 L1391.9,1233.1 L1394.7,1232.2 L1397.4,1231.3 L1400.2,1230.4 L1403.0,1229.5 L1405.8,1228.5 L1408.5,1227.6 L1411.3,1226.7 L1414.1,1225.7 L1416.9,1224.8 L1419.6,1223.8 L1422.4,1222.8 L1425.2,1221.8 L1428.0,1220.8 L1430.7,1219.8 L1433.5,1218.8 L1436.3,1217.8 L1439.0,1216.8 L1441.8,1215.7 L1444.6,1214.7 L1447.4,1213.6 L1450.1,1212.6 L1452.9,1211.5 L1455.7,1210.4 L1458.5,1209.3 L1461.2,1208.2 L1464.0,1207.0 L1466.8,1205.9 L1469.6,1204.7 L1472.3,1203.6 L1475.1,1202.4 L1477.9,1201.2 L1480.7,1200.0 L1483.4,1198.8 L1486.2,1197.6 L1489.0,1196.3 L1491.8,1195.1 L1494.5,1193.8 L1497.3,1192.6 L1500.1,1191.3 L1502.9,1190.0 L1505.6,1188.6 L1508.4,1187.3 L1511.2,1186.0 L1514.0,1184.6 L1516.7,1183.2 L1519.5,1181.8 L1522.3,1180.4 L1525.1,1179.0 L1527.8,1177.6 L1530.6,1176.1 L1533.4,1174.7 L1536.2,1173.2 L1538.9,1171.7 L1541.7,1170.2 L1544.5,1168.6 L1547.3,1167.1 L1550.0,1165.5 L1552.8,1163.9 L1555.6,1162.3 L1558.4,1160.7 L1561.1,1159.1 L1563.9,1157.4 L1566.7,1155.8 L1569.5,1154.1 L1572.2,1152.4 L1575.0,1150.7 L1577.8,1149.0 L1580.6,1147.2 L1583.3,1145.5 L1586.1,1143.7 L1588.9,1141.9 L1591.7,1140.1 L1594.4,1138.3 L1597.2,1136.5 L1600.0,1134.7 L1602.8,1132.8 L1605.5,1130.9 L1608.3,1129.1 L1611.1,1127.2 L1613.9,1125.3 L1616.6,1123.3 L1619.4,1122.0 L1622.2,1120.2 L1625.0,1117.7 L1627.7,1115.6 L1630.5,1113.5 L1633.3,1111.9 L1636.1,1109.5 L1638.8,1107.5 L1641.6,1105.7 L1644.4,1103.9 L1647.1,1101.7 L1649.9,1099.0 L1652.7,1097.6 L1655.5,1095.5 L1658.2,1093.6 L1661.0,1091.7 L1663.8,1089.0 L1666.6,1087.3 L1669.3,1085.4 L1672.1,1082.8 L1674.9,1081.3 L1677.7,1079.1 L1680.4,1076.8 L1683.2,1074.5 L1686.0,1072.6 L1688.8,1070.6 L1691.5,1068.0 L1694.3,1065.9 L1697.1,1063.7 L1699.9,1061.9 L1702.6,1059.8 L1705.4,1057.8 L1708.2,1055.4 L1711.0,1053.1 L1713.7,1050.9 L1716.5,1048.6 L1719.3,1046.8 L1722.1,1044.2 L1724.8,1042.0 L1727.6,1040.0 L1730.4,1037.5 L1733.2,1035.9 L1735.9,1034.0 L1738.7,1031.6 L1741.5,1029.4 L1744.3,1027.2 L1747.0,1024.9 L1749.8,1022.6 L1752.6,1020.2 L1755.4,1018.4 L1758.1,1016.5 L1760.9,1014.5 L1763.7,1011.8 L1766.5,1009.8 L1769.2,1007.6 L1772.0,1005.2 L1774.8,1003.0 L1777.6,1000.9 L1780.3,998.9 L1783.1,997.1 L1785.9,994.2 L1788.7,992.1 L1791.4,990.0 L1794.2,988.4 L1797.0,986.3 L1799.8,983.9 L1802.5,982.2 L1805.3,979.8 L1808.1,978.3 L1810.9,976.0 L1813.6,974.0 L1816.4,971.5 L1819.2,969.9 L1822.0,967.7 L1824.7,965.5 L1827.5,963.3 L1830.3,961.9 L1833.1,960.0 L1835.8,957.8 L1838.6,956.1 L1841.4,954.3 L1844.2,952.3 L1846.9,949.9 L1849.7,948.3 L1852.5,946.4 L1855.2,944.3 L1858.0,942.6 L1860.8,940.7 L1863.6,939.2 L1866.3,937.2 L1869.1,935.5 L1871.9,933.9 L1874.7,932.4 L1877.4,930.4 L1880.2,928.2 L1883.0,927.1 L1885.8,925.2 L1888.5,923.7 L1891.3,921.8 L1894.1,920.0 L1896.9,918.2 L1899.6,917.0 L1902.4,915.6 L1905.2,913.7 L1908.0,912.1 L1910.7,910.5 L1913.5,909.2 L1916.3,907.8 L1919.1,906.5 L1921.8,904.8 L1924.6,903.4 L1927.4,901.8 L1930.2,900.8 L1932.9,899.2 L1935.7,897.4 L1938.5,896.2 L1941.3,895.1 L1944.0,894.1 L1946.8,892.6 L1949.6,891.7 L1952.4,890.1 L1955.1,888.4 L1957.9,887.3 L1960.7,886.6 L1963.5,884.8 L1966.2,883.5 L1969.0,882.2 L1971.8,881.0 L1974.6,880.4 L1977.3,879.3 L1980.1,877.7 L1982.9,877.2 L1985.7,876.0 L1988.4,874.4 L1991.2,873.0 L1994.0,872.2 L1996.8,871.2 L1999.5,870.4 L2002.3,869.1 L2005.1,868.5 L2007.9,867.8 L2010.6,866.0 L2013.4,865.0 L2016.2,864.5 L2019.0,863.6 L2021.7,861.7 L2024.5,860.9 L2027.3,859.8 L2030.1,859.4 L2032.8,858.4 L2035.6,857.3 L2038.4,856.7 L2041.2,855.9 L2043.9,853.9 L2046.7,853.3 L2049.5,852.7 L2052.3,852.1 L2055.0,851.4 L2057.8,850.6"/>
<path class="curve" stroke="#b9b9b9" d="M393.0,661.4 L395.8,653.3 L398.5,643.8 L401.3,634.7 L404.1,625.0 L406.9,615.4 L409.6,607.7 L412.4,598.6 L415.2,590.9 L418.0,583.1 L420.7,576.7 L423.5,569.2 L426.3,563.7 L429.1,559.6 L431.8,556.4 L434.6,553.5 L437.4,554.3 L440.2,553.1 L442.9,553.4 L445.7,553.9 L448.5,555.5 L451.3,555.2 L454.0,556.1 L456.8,558.2 L459.6,560.2 L462.4,560.3 L465.1,561.6 L467.9,561.8 L470.7,558.5 L473.5,558.3 L476.2,555.7 L479.0,552.5 L481.8,551.1 L484.6,549.4 L487.3,548.7 L490.1,546.2 L492.9,545.4 L495.7,543.8 L498.4,539.6 L501.2,538.5 L504.0,535.7 L506.8,532.8 L509.5,530.7 L512.3,527.5 L515.1,523.6 L517.9,521.3 L520.6,518.8 L523.4,515.2 L526.2,511.4 L529.0,509.8 L531.7,505.0 L534.5,500.3 L537.3,496.6 L540.1,493.3 L542.8,493.0 L545.6,492.6 L548.4,491.6 L551.2,491.4 L553.9,492.1 L556.7,492.4 L559.5,490.2 L562.3,489.6 L565.0,489.7 L567.8,491.7 L570.6,491.3 L573.4,491.0 L576.1,490.8 L578.9,490.8 L581.7,492.0 L584.5,494.1 L587.2,493.9 L590.0,494.5 L592.8,493.9 L595.6,494.6 L598.3,493.9 L601.1,495.8 L603.9,494.9 L606.6,494.7 L609.4,492.6 L612.2,490.8 L615.0,487.8 L617.7,485.1 L620.5,481.9 L623.3,480.7 L626.1,479.6 L628.8,478.8 L631.6,478.0 L634.4,477.2 L637.2,474.2 L639.9,471.9 L642.7,469.3 L645.5,466.5 L648.3,462.1 L651.0,460.5 L653.8,459.3 L656.6,459.2 L659.4,457.5 L662.1,454.2 L664.9,451.8 L667.7,448.0 L670.5,448.8 L673.2,448.5 L676.0,448.5 L678.8,448.3 L681.6,448.1 L684.3,446.7 L687.1,446.2 L689.9,445.5 L692.7,445.7 L695.4,446.2 L698.2,446.9 L701.0,446.7 L703.8,446.5 L706.5,447.1 L709.3,449.3 L712.1,450.7 L714.9,453.6 L717.6,456.3 L720.4,457.0 L723.2,460.8 L726.0,463.7 L728.7,465.9 L731.5,470.9 L734.3,477.1 L737.1,482.4 L739.8,490.0 L742.6,500.3 L745.4,508.9 L748.2,518.3 L750.9,528.7 L753.7,537.7 L756.5,547.3 L759.3,560.4 L762.0,572.8 L764.8,582.0 L767.6,595.4 L770.4,607.8 L773.1,620.8 L775.9,633.8 L778.7,646.4 L781.5,657.1 L784.2,667.2 L787.0,677.5 L789.8,686.3 L792.6,696.9 L795.3,705.9 L798.1,714.5 L800.9,723.1 L803.7,731.4 L806.4,739.5 L809.2,747.3 L812.0,754.9 L814.7,762.2 L817.5,769.3 L820.3,776.1 L823.1,782.6 L825.8,788.8 L828.6,794.7 L831.4,800.3 L834.2,805.6 L836.9,810.7 L839.7,815.5 L842.5,820.1 L845.3,824.2 L848.0,828.0 L850.8,831.4 L853.6,834.5 L856.4,837.2 L859.1,839.6 L861.9,841.7 L864.7,843.5 L867.5,845.0 L870.2,846.1 L873.0,847.0 L875.8,847.6 L878.6,848.0 L881.3,848.2 L884.1,848.2 L886.9,848.1 L889.7,847.8 L892.4,847.5 L895.2,847.0 L898.0,846.5 L900.8,845.9 L903.5,845.3 L906.3,844.5 L909.1,843.7 L911.9,842.8 L914.6,841.8 L917.4,840.7 L920.2,839.6 L923.0,838.3 L925.7,837.1 L928.5,835.7 L931.3,834.4 L934.1,832.9 L936.8,831.5 L939.6,830.0 L942.4,828.4 L945.2,826.9 L947.9,825.3 L950.7,823.7 L953.5,822.0 L956.3,820.4 L959.0,818.7 L961.8,817.0 L964.6,815.4 L967.4,813.7 L970.1,812.0 L972.9,810.4 L975.7,808.7 L978.5,807.1 L981.2,805.5 L984.0,803.9 L986.8,802.3 L989.6,800.8 L992.3,799.3 L995.1,797.8 L997.9,796.4 L1000.7,795.0 L1003.4,793.7 L1006.2,792.5 L1009.0,791.3 L1011.8,790.1 L1014.5,789.1 L1017.3,788.1 L1020.1,787.2 L1022.8,786.3 L1025.6,785.6 L1028.4,784.9 L1031.2,784.4 L1033.9,783.9 L1036.7,783.6 L1039.5,783.3 L1042.3,783.2 L1045.0,783.1 L1047.8,783.2 L1050.6,783.4 L1053.4,783.7 L1056.1,784.2 L1058.9,784.7 L1061.7,785.5 L1064.5,786.4 L1067.2,787.5 L1070.0,788.7 L1072.8,790.2 L1075.6,791.9 L1078.3,793.8 L1081.1,796.0 L1083.9,798.4 L1086.7,801.2 L1089.4,804.2 L1092.2,807.6 L1095.0,811.3 L1097.8,815.3 L1100.5,819.7 L1103.3,824.5 L1106.1,829.7 L1108.9,835.1 L1111.6,840.8 L1114.4,846.7 L1117.2,852.8 L1120.0,859.0 L1122.7,865.3 L1125.5,871.7 L1128.3,878.1 L1131.1,884.4 L1133.8,890.6 L1136.6,896.8 L1139.4,902.7 L1142.2,908.5 L1144.9,914.0 L1147.7,919.2 L1150.5,924.1 L1153.3,928.6 L1156.0,932.6 L1158.8,936.3 L1161.6,939.6 L1164.4,942.5 L1167.1,945.1 L1169.9,947.3 L1172.7,949.2 L1175.5,950.8 L1178.2,952.2 L1181.0,953.2 L1183.8,954.1 L1186.6,954.7 L1189.3,955.0 L1192.1,955.2 L1194.9,955.3 L1197.7,955.2 L1200.4,954.9 L1203.2,954.5 L1206.0,954.0 L1208.8,953.4 L1211.5,952.7 L1214.3,951.9 L1217.1,951.0 L1219.9,950.1 L1222.6,949.1 L1225.4,948.0 L1228.2,946.8 L1230.9,945.6 L1233.7,944.3 L1236.5,943.0 L1239.3,941.5 L1242.0,940.1 L1244.8,938.5 L1247.6,936.9 L1250.4,935.3 L1253.1,933.6 L1255.9,931.8 L1258.7,930.0 L1261.5,928.1 L1264.2,926.2 L1267.0,924.2 L1269.8,922.1 L1272.6,920.1 L1275.3,917.9 L1278.1,915.8 L1280.9,913.5 L1283.7,911.3 L1286.4,908.9 L1289.2,906.6 L1292.0,904.2 L1294.8,901.8 L1297.5,899.3 L1300.3,896.8 L1303.1,894.2 L1305.9,891.6 L1308.6,889.0 L1311.4,886.4 L1314.2,883.7 L1317.0,881.0 L1319.7,878.2 L1322.5,875.4 L1325.3,872.6 L1328.1,869.8 L1330.8,867.0 L1333.6,864.1 L1336.4,861.6 L1339.2,858.7 L1341.9,855.4 L1344.7,852.9 L1347.5,849.9 L1350.3,847.3 L1353.0,843.4 L1355.8,839.4 L1358.6,836.8 L1361.4,834.3 L1364.1,830.7 L1366.9,828.3 L1369.7,824.8 L1372.5,822.0 L1375.2,818.9 L1378.0,815.4 L1380.8,812.8 L1383.6,809.9 L1386.3,806.1 L1389.1,802.8 L1391.9,799.6 L1394.7,797.0 L1397.4,793.9 L1400.2,790.0 L1403.0,786.8 L1405.8,784.1 L1408.5,780.7 L1411.3,777.9 L1414.1,774.0 L1416.9,770.3 L1419.6,766.7 L1422.4,763.5 L1425.2,759.9 L1428.0,757.5 L1430.7,754.7 L1433.5,750.0 L1436.3,746.6 L1439.0,743.4 L1441.8,740.4 L1444.6,736.9 L1447.4,734.2 L1450.1,730.9 L1452.9,726.8 L1455.7,723.5 L1458.5,719.9 L1461.2,717.2 L1464.0,714.1 L1466.8,709.6 L1469.6,706.2 L1472.3,702.6 L1475.1,699.8 L1477.9,696.3 L1480.7,692.4 L1483.4,689.2 L1486.2,686.8 L1489.0,683.3 L1491.8,678.6 L1494.5,675.2 L1497.3,671.7 L1500.1,668.4 L1502.9,664.4 L1505.6,661.6 L1508.4,658.4 L1511.2,654.8 L1514.0,650.4 L1516.7,647.9 L1519.5,643.4 L1522.3,639.7 L1525.1,637.2 L1527.8,633.7 L1530.6,629.8 L1533.4,626.6 L1536.2,623.0 L1538.9,619.2 L1541.7,615.1 L1544.5,611.8 L1547.3,608.5 L1550.0,605.6 L1552.8,602.1 L1555.6,597.9 L1558.4,594.0 L1561.1,590.5 L1563.9,587.5 L1566.7,583.6 L1569.5,581.0 L1572.2,576.9 L1575.0,573.2 L1577.8,569.9 L1580.6,566.0 L1583.3,562.1 L1586.1,559.0 L1588.9,555.6 L1591.7,551.7 L1594.4,548.3 L1597.2,544.7 L1600.0,540.5 L1602.8,537.4 L1605.5,534.2 L1608.3,530.4 L1611.1,527.5 L1613.9,524.0 L1616.6,519.4 L1619.4,516.6 L1622.2,513.6 L1625.0,510.0 L1627.7,506.9 L1630.5,503.4 L1633.3,499.3 L1636.1,496.5 L1638.8,492.8 L1641.6,489.0 L1644.4,486.8 L1647.1,483.3 L1649.9,480.4 L1652.7,477.7 L1655.5,474.8 L1658.2,471.2 L1661.0,468.0 L1663.8,465.3 L1666.6,463.1 L1669.3,459.9 L1672.1,458.0 L1674.9,455.1 L1677.7,451.6 L1680.4,449.6 L1683.2,446.1 L1686.0,443.4 L1688.8,440.7 L1691.5,437.7 L1694.3,435.4 L1697.1,433.0 L1699.9,430.9 L1702.6,427.6 L1705.4,423.9 L1708.2,421.3 L1711.0,418.6 L1713.7,415.2 L1716.5,411.9 L1719.3,409.2 L1722.1,406.0 L1724.8,403.5 L1727.6,400.5 L1730.4,398.6 L1733.2,395.0 L1735.9,391.7 L1738.7,390.2 L1741.5,387.1 L1744.3,384.2 L1747.0,382.4 L1749.8,379.3 L1752.6,376.3 L1755.4,374.5 L1758.1,373.9 L1760.9,371.9 L1763.7,368.7 L1766.5,366.7 L1769.2,363.6 L1772.0,362.9 L1774.8,360.6 L1777.6,358.9 L1780.3,356.5 L1783.1,354.5 L1785.9,351.9 L1788.7,351.1 L1791.4,349.0 L1794.2,347.7 L1797.0,346.5 L1799.8,342.6 L1802.5,342.7 L1805.3,340.9 L1808.1,339.2 L1810.9,337.8 L1813.6,335.3 L1816.4,332.8 L1819.2,331.9 L1822.0,330.4 L1824.7,328.0 L1827.5,328.1 L1830.3,326.8 L1833.1,324.4 L1835.8,323.6 L1838.6,322.3 L1841.4,320.9 L1844.2,319.7 L1846.9,318.9 L1849.7,317.4 L1852.5,317.0 L1855.2,314.9 L1858.0,314.2 L1860.8,312.8 L1863.6,309.9 L1866.3,309.6 L1869.1,308.8 L1871.9,307.7 L1874.7,306.6 L1877.4,305.9 L1880.2,304.6 L1883.0,302.8 L1885.8,302.5 L1888.5,300.7 L1891.3,299.8 L1894.1,298.1 L1896.9,296.5 L1899.6,295.8 L1902.4,296.5 L1905.2,295.2 L1908.0,293.3 L1910.7,293.0 L1913.5,291.1 L1916.3,290.0 L1919.1,288.6 L1921.8,288.6 L1924.6,288.6 L1927.4,288.8 L1930.2,286.3 L1932.9,285.6 L1935.7,284.9 L1938.5,284.3 L1941.3,282.4 L1944.0,281.3 L1946.8,281.6 L1949.6,279.8 L1952.4,279.9 L1955.1,278.7 L1957.9,278.2 L1960.7,277.6 L1963.5,275.9 L1966.2,277.1 L1969.0,274.5 L1971.8,273.8 L1974.6,273.9 L1977.3,271.3 L1980.1,271.9 L1982.9,272.1 L1985.7,271.3 L1988.4,270.8 L1991.2,270.1 L1994.0,269.5 L1996.8,269.2 L1999.5,270.0 L2002.3,268.7 L2005.1,267.1 L2007.9,267.1 L2010.6,267.5 L2013.4,267.3 L2016.2,265.3 L2019.0,265.2 L2021.7,263.6 L2024.5,264.4 L2027.3,265.7 L2030.1,264.9 L2032.8,263.7 L2035.6,262.9 L2038.4,263.3 L2041.2,263.3 L2043.9,263.3 L2046.7,263.3 L2049.5,262.6 L2052.3,261.3 L2055.0,261.7 L2057.8,262.0"/>
<path class="curve" stroke="#0000ff" d="M393.0,650.6 L395.8,643.8 L398.5,635.5 L401.3,624.2 L404.1,614.3 L406.9,605.9 L409.6,594.4 L412.4,583.0 L415.2,574.7 L418.0,567.1 L420.7,560.6 L423.5,552.4 L426.3,550.7 L429.1,548.0 L431.8,545.0 L434.6,543.0 L437.4,540.4 L440.2,538.6 L442.9,538.1 L445.7,539.9 L448.5,541.5 L451.3,543.9 L454.0,546.9 L456.8,546.8 L459.6,545.9 L462.4,547.2 L465.1,548.4 L467.9,547.7 L470.7,545.8 L473.5,544.6 L476.2,543.8 L479.0,544.1 L481.8,541.0 L484.6,539.0 L487.3,538.2 L490.1,536.7 L492.9,534.6 L495.7,530.4 L498.4,526.6 L501.2,524.9 L504.0,522.4 L506.8,518.7 L509.5,513.9 L512.3,508.9 L515.1,506.5 L517.9,500.4 L520.6,496.7 L523.4,492.9 L526.2,488.8 L529.0,483.6 L531.7,478.6 L534.5,475.3 L537.3,472.9 L540.1,471.4 L542.8,471.2 L545.6,467.8 L548.4,468.0 L551.2,466.4 L553.9,464.3 L556.7,462.4 L559.5,462.3 L562.3,461.0 L565.0,461.1 L567.8,460.3 L570.6,458.5 L573.4,458.8 L576.1,457.0 L578.9,456.4 L581.7,456.1 L584.5,455.6 L587.2,456.7 L590.0,457.6 L592.8,457.0 L595.6,456.2 L598.3,454.2 L601.1,453.9 L603.9,455.8 L606.6,453.3 L609.4,448.9 L612.2,446.6 L615.0,444.3 L617.7,443.5 L620.5,441.3 L623.3,440.0 L626.1,437.0 L628.8,436.1 L631.6,436.0 L634.4,433.5 L637.2,428.6 L639.9,423.0 L642.7,417.5 L645.5,416.1 L648.3,412.2 L651.0,407.8 L653.8,405.5 L656.6,403.2 L659.4,402.1 L662.1,400.2 L664.9,399.9 L667.7,397.7 L670.5,394.9 L673.2,393.4 L676.0,390.8 L678.8,390.8 L681.6,389.1 L684.3,388.1 L687.1,386.6 L689.9,384.5 L692.7,382.6 L695.4,381.9 L698.2,380.4 L701.0,377.9 L703.8,379.3 L706.5,380.5 L709.3,379.2 L712.1,378.1 L714.9,377.4 L717.6,375.9 L720.4,374.7 L723.2,374.0 L726.0,371.9 L728.7,371.4 L731.5,373.4 L734.3,373.9 L737.1,373.9 L739.8,376.3 L742.6,376.2 L745.4,377.5 L748.2,377.6 L750.9,380.6 L753.7,380.6 L756.5,383.4 L759.3,386.2 L762.0,387.3 L764.8,388.4 L767.6,388.9 L770.4,390.0 L773.1,390.9 L775.9,389.3 L778.7,390.4 L781.5,392.3 L784.2,392.4 L787.0,394.1 L789.8,394.5 L792.6,393.6 L795.3,393.4 L798.1,393.3 L800.9,391.5 L803.7,391.5 L806.4,391.8 L809.2,391.1 L812.0,391.3 L814.7,391.7 L817.5,390.7 L820.3,389.8 L823.1,389.3 L825.8,389.2 L828.6,387.5 L831.4,386.9 L834.2,388.6 L836.9,386.9 L839.7,384.3 L842.5,384.1 L845.3,383.0 L848.0,383.6 L850.8,382.0 L853.6,382.0 L856.4,382.7 L859.1,380.8 L861.9,380.2 L864.7,379.3 L867.5,378.3 L870.2,376.8 L873.0,375.4 L875.8,372.8 L878.6,371.6 L881.3,369.1 L884.1,368.6 L886.9,367.5 L889.7,367.3 L892.4,365.3 L895.2,363.4 L898.0,362.1 L900.8,360.6 L903.5,359.6 L906.3,358.4 L909.1,357.5 L911.9,356.0 L914.6,355.3 L917.4,354.6 L920.2,352.0 L923.0,350.7 L925.7,349.6 L928.5,350.5 L931.3,349.3 L934.1,347.4 L936.8,345.8 L939.6,344.3 L942.4,344.4 L945.2,343.0 L947.9,342.0 L950.7,340.5 L953.5,337.6 L956.3,337.2 L959.0,337.1 L961.8,336.6 L964.6,334.7 L967.4,334.1 L970.1,332.6 L972.9,331.1 L975.7,330.9 L978.5,328.8 L981.2,328.0 L984.0,329.2 L986.8,328.6 L989.6,327.3 L992.3,326.8 L995.1,324.8 L997.9,324.0 L1000.7,323.5 L1003.4,322.6 L1006.2,321.5 L1009.0,319.6 L1011.8,319.9 L1014.5,318.2 L1017.3,318.3 L1020.1,319.6 L1022.8,318.4 L1025.6,317.3 L1028.4,317.6 L1031.2,317.1 L1033.9,317.1 L1036.7,317.1 L1039.5,317.7 L1042.3,318.4 L1045.0,319.6 L1047.8,321.3 L1050.6,321.1 L1053.4,321.6 L1056.1,322.1 L1058.9,324.9 L1061.7,325.8 L1064.5,327.6 L1067.2,329.1 L1070.0,331.1 L1072.8,332.7 L1075.6,334.9 L1078.3,337.5 L1081.1,340.4 L1083.9,343.5 L1086.7,346.6 L1089.4,349.6 L1092.2,353.4 L1095.0,357.5 L1097.8,362.0 L1100.5,366.4 L1103.3,371.3 L1106.1,376.4 L1108.9,381.5 L1111.6,386.6 L1114.4,393.1 L1117.2,398.7 L1120.0,404.5 L1122.7,411.1 L1125.5,417.6 L1128.3,424.6 L1131.1,431.4 L1133.8,438.6 L1136.6,444.7 L1139.4,451.3 L1142.2,457.3 L1144.9,463.6 L1147.7,469.2 L1150.5,474.1 L1153.3,478.6 L1156.0,483.2 L1158.8,487.1 L1161.6,490.9 L1164.4,493.9 L1167.1,496.7 L1169.9,499.1 L1172.7,501.2 L1175.5,503.0 L1178.2,504.8 L1181.0,505.7 L1183.8,506.6 L1186.6,507.0 L1189.3,507.3 L1192.1,507.2 L1194.9,507.3 L1197.7,506.8 L1200.4,505.9 L1203.2,505.4 L1206.0,504.4 L1208.8,503.5 L1211.5,502.3 L1214.3,501.3 L1217.1,499.5 L1219.9,497.6 L1222.6,495.9 L1225.4,494.1 L1228.2,492.2 L1230.9,490.5 L1233.7,488.3 L1236.5,486.5 L1239.3,484.7 L1242.0,482.3 L1244.8,480.3 L1247.6,478.5 L1250.4,476.2 L1253.1,473.8 L1255.9,471.8 L1258.7,469.4 L1261.5,467.1 L1264.2,465.1 L1267.0,462.5 L1269.8,460.2 L1272.6,458.1 L1275.3,456.0 L1278.1,453.6 L1280.9,450.9 L1283.7,448.7 L1286.4,446.2 L1289.2,444.3 L1292.0,441.7 L1294.8,438.9 L1297.5,436.9 L1300.3,433.7 L1303.1,431.4 L1305.9,428.5 L1308.6,427.0 L1311.4,424.3 L1314.2,422.1 L1317.0,420.4 L1319.7,417.0 L1322.5,414.2 L1325.3,411.4 L1328.1,409.0 L1330.8,406.3 L1333.6,404.1 L1336.4,401.5 L1339.2,398.8 L1341.9,395.9 L1344.7,393.3 L1347.5,390.7 L1350.3,388.1 L1353.0,385.7 L1355.8,382.6 L1358.6,380.1 L1361.4,377.9 L1364.1,375.8 L1366.9,372.6 L1369.7,369.7 L1372.5,367.1 L1375.2,365.0 L1378.0,361.6 L1380.8,358.9 L1383.6,356.4 L1386.3,353.6 L1389.1,351.1 L1391.9,348.8 L1394.7,345.8 L1397.4,342.7 L1400.2,340.9 L1403.0,338.5 L1405.8,335.6 L1408.5,333.8 L1411.3,330.7 L1414.1,327.9 L1416.9,324.9 L1419.6,323.7 L1422.4,321.2 L1425.2,318.4 L1428.0,315.8 L1430.7,312.3 L1433.5,309.7 L1436.3,307.6 L1439.0,304.9 L1441.8,302.0 L1444.6,300.0 L1447.4,297.8 L1450.1,295.1 L1452.9,293.2 L1455.7,290.4 L1458.5,287.5 L1461.2,284.9 L1464.0,282.5 L1466.8,280.8 L1469.6,277.7 L1472.3,276.1 L1475.1,273.8 L1477.9,270.8 L1480.7,269.1 L1483.4,266.9 L1486.2,265.2 L1489.0,262.5 L1491.8,260.0 L1494.5,258.1 L1497.3,256.2 L1500.1,253.2 L1502.9,251.1 L1505.6,249.7 L1508.4,248.0 L1511.2,244.8 L1514.0,243.7 L1516.7,241.5 L1519.5,239.5 L1522.3,237.5 L1525.1,235.1 L1527.8,233.2 L1530.6,232.3 L1533.4,229.2 L1536.2,227.8 L1538.9,226.6 L1541.7,224.3 L1544.5,222.8 L1547.3,220.8 L1550.0,218.8 L1552.8,217.6 L1555.6,215.8 L1558.4,214.0 L1561.1,212.9 L1563.9,211.0 L1566.7,209.7 L1569.5,208.1 L1572.2,207.4 L1575.0,205.8 L1577.8,204.1 L1580.6,202.5 L1583.3,201.1 L1586.1,199.8 L1588.9,198.4 L1591.7,198.0 L1594.4,196.0 L1597.2,195.4 L1600.0,194.3 L1602.8,192.7 L1605.5,191.4 L1608.3,189.9 L1611.1,189.2 L1613.9,188.1 L1616.6,187.5 L1619.4,186.0 L1622.2,185.0 L1625.0,184.3 L1627.7,182.5 L1630.5,181.9 L1633.3,181.7 L1636.1,180.4 L1638.8,179.6 L1641.6,177.3 L1644.4,177.1 L1647.1,176.5 L1649.9,175.3 L1652.7,175.1 L1655.5,173.5 L1658.2,172.9 L1661.0,172.5 L1663.8,171.6 L1666.6,170.5 L1669.3,169.5 L1672.1,169.0 L1674.9,168.0 L1677.7,167.9 L1680.4,166.5 L1683.2,165.4 L1686.0,165.5 L1688.8,164.9 L1691.5,163.4 L1694.3,162.0 L1697.1,160.8 L1699.9,160.5 L1702.6,160.7 L1705.4,160.1 L1708.2,159.0 L1711.0,159.4 L1713.7,158.7 L1716.5,159.2 L1719.3,158.9 L1722.1,157.1 L1724.8,155.9 L1727.6,153.5 L1730.4,151.9 L1733.2,150.8 L1735.9,149.3 L1738.7,147.6 L1741.5,147.4 L1744.3,145.8 L1747.0,143.7 L1749.8,145.0 L1752.6,144.7 L1755.4,142.9 L1758.1,144.1 L1760.9,144.8 L1763.7,144.5 L1766.5,144.1 L1769.2,144.1 L1772.0,144.8 L1774.8,144.9 L1777.6,145.5 L1780.3,145.7 L1783.1,146.3 L1785.9,145.6 L1788.7,146.1 L1791.4,146.3 L1794.2,146.3 L1797.0,146.6 L1799.8,145.7 L1802.5,146.6 L1805.3,147.9 L1808.1,147.6 L1810.9,147.5 L1813.6,148.1 L1816.4,147.6 L1819.2,147.3 L1822.0,148.2 L1824.7,148.8 L1827.5,148.6 L1830.3,149.6 L1833.1,149.3 L1835.8,149.2 L1838.6,149.3 L1841.4,150.9 L1844.2,151.2 L1846.9,149.7 L1849.7,150.2 L1852.5,150.3 L1855.2,151.4 L1858.0,151.3 L1860.8,151.9 L1863.6,151.6 L1866.3,151.5 L1869.1,152.9 L1871.9,152.6 L1874.7,152.5 L1877.4,152.5 L1880.2,153.4 L1883.0,154.1 L1885.8,153.9 L1888.5,155.4 L1891.3,155.4 L1894.1,154.9 L1896.9,155.2 L1899.6,155.1 L1902.4,155.6 L1905.2,155.1 L1908.0,155.6 L1910.7,157.5 L1913.5,157.0 L1916.3,157.3 L1919.1,156.9 L1921.8,157.6 L1924.6,157.5 L1927.4,156.9 L1930.2,158.0 L1932.9,158.5 L1935.7,158.9 L1938.5,159.7 L1941.3,159.7 L1944.0,158.9 L1946.8,159.4 L1949.6,160.1 L1952.4,160.5 L1955.1,160.7 L1957.9,160.3 L1960.7,161.3 L1963.5,161.3 L1966.2,160.5 L1969.0,160.6 L1971.8,161.3 L1974.6,162.0 L1977.3,162.1 L1980.1,162.5 L1982.9,162.6 L1985.7,163.4 L1988.4,164.3 L1991.2,164.4 L1994.0,163.8 L1996.8,165.3 L1999.5,165.8 L2002.3,165.2 L2005.1,166.5 L2007.9,165.9 L2010.6,165.6 L2013.4,167.0 L2016.2,166.6 L2019.0,166.7 L2021.7,168.2 L2024.5,168.2 L2027.3,167.5 L2030.1,167.4 L2032.8,168.0 L2035.6,168.4 L2038.4,168.7 L2041.2,167.4 L2043.9,168.9 L2046.7,169.2 L2049.5,169.1 L2052.3,169.6 L2055.0,169.9 L2057.8,169.1"/>
<path class="curve" stroke="#007800" d="M393.0,635.4 L395.8,623.3 L398.5,611.5 L401.3,599.3 L404.1,587.5 L406.9,573.7 L409.6,564.0 L412.4,553.0 L415.2,544.5 L418.0,537.9 L420.7,533.2 L423.5,528.5 L426.3,522.6 L429.1,518.9 L431.8,516.8 L434.6,514.4 L437.4,512.1 L440.2,508.6 L442.9,506.7 L445.7,506.8 L448.5,507.6 L451.3,510.2 L454.0,511.7 L456.8,513.4 L459.6,514.5 L462.4,515.0 L465.1,512.9 L467.9,509.1 L470.7,508.7 L473.5,508.8 L476.2,506.0 L479.0,503.4 L481.8,501.3 L484.6,496.2 L487.3,495.0 L490.1,492.2 L492.9,488.8 L495.7,485.1 L498.4,482.2 L501.2,478.8 L504.0,473.9 L506.8,468.5 L509.5,462.1 L512.3,454.6 L515.1,449.7 L517.9,446.4 L520.6,441.3 L523.4,435.2 L526.2,429.2 L529.0,424.2 L531.7,420.0 L534.5,415.9 L537.3,411.8 L540.1,406.9 L542.8,399.4 L545.6,398.3 L548.4,396.8 L551.2,394.8 L553.9,392.8 L556.7,391.2 L559.5,388.1 L562.3,385.5 L565.0,384.5 L567.8,384.8 L570.6,382.8 L573.4,382.2 L576.1,376.3 L578.9,374.1 L581.7,375.4 L584.5,376.7 L587.2,374.5 L590.0,373.6 L592.8,372.4 L595.6,370.9 L598.3,370.4 L601.1,369.3 L603.9,366.9 L606.6,366.6 L609.4,362.2 L612.2,358.7 L615.0,360.0 L617.7,359.8 L620.5,355.1 L623.3,353.2 L626.1,351.9 L628.8,347.7 L631.6,343.1 L634.4,340.1 L637.2,335.5 L639.9,331.5 L642.7,328.9 L645.5,322.4 L648.3,318.3 L651.0,314.6 L653.8,309.6 L656.6,304.8 L659.4,300.5 L662.1,297.4 L664.9,294.9 L667.7,293.0 L670.5,292.0 L673.2,290.6 L676.0,288.7 L678.8,286.5 L681.6,281.2 L684.3,278.1 L687.1,274.7 L689.9,274.1 L692.7,271.2 L695.4,270.0 L698.2,268.1 L701.0,265.6 L703.8,263.8 L706.5,262.6 L709.3,259.9 L712.1,256.6 L714.9,255.9 L717.6,253.1 L720.4,251.7 L723.2,249.6 L726.0,246.3 L728.7,240.9 L731.5,239.5 L734.3,236.7 L737.1,236.2 L739.8,237.2 L742.6,235.7 L745.4,230.7 L748.2,228.0 L750.9,225.3 L753.7,224.1 L756.5,224.2 L759.3,230.5 L762.0,224.9 L764.8,222.4 L767.6,221.6 L770.4,220.8 L773.1,219.3 L775.9,217.9 L778.7,217.8 L781.5,217.3 L784.2,216.4 L787.0,217.5 L789.8,218.5 L792.6,220.5 L795.3,218.0 L798.1,216.6 L800.9,218.9 L803.7,219.1 L806.4,218.1 L809.2,218.1 L812.0,218.6 L814.7,218.1 L817.5,220.2 L820.3,219.1 L823.1,217.5 L825.8,217.9 L828.6,217.0 L831.4,216.9 L834.2,216.7 L836.9,217.6 L839.7,216.2 L842.5,217.9 L845.3,219.0 L848.0,215.3 L850.8,215.9 L853.6,217.5 L856.4,216.0 L859.1,215.6 L861.9,215.0 L864.7,215.7 L867.5,215.8 L870.2,214.2 L873.0,214.1 L875.8,214.4 L878.6,214.3 L881.3,213.4 L884.1,214.3 L886.9,214.5 L889.7,213.5 L892.4,212.9 L895.2,211.9 L898.0,212.9 L900.8,213.3 L903.5,213.3 L906.3,211.5 L909.1,211.7 L911.9,210.1 L914.6,210.2 L917.4,209.7 L920.2,208.6 L923.0,209.0 L925.7,209.4 L928.5,209.3 L931.3,209.0 L934.1,209.1 L936.8,209.5 L939.6,209.1 L942.4,206.9 L945.2,207.5 L947.9,207.6 L950.7,206.2 L953.5,207.7 L956.3,208.1 L959.0,206.2 L961.8,205.3 L964.6,206.3 L967.4,207.6 L970.1,208.3 L972.9,206.8 L975.7,206.3 L978.5,206.5 L981.2,207.4 L984.0,206.5 L986.8,206.6 L989.6,206.7 L992.3,205.4 L995.1,204.3 L997.9,204.7 L1000.7,205.1 L1003.4,204.6 L1006.2,202.6 L1009.0,203.4 L1011.8,203.3 L1014.5,202.6 L1017.3,201.9 L1020.1,202.0 L1022.8,202.4 L1025.6,204.5 L1028.4,204.0 L1031.2,204.1 L1033.9,205.0 L1036.7,205.9 L1039.5,205.3 L1042.3,205.8 L1045.0,205.7 L1047.8,205.2 L1050.6,206.4 L1053.4,205.9 L1056.1,206.6 L1058.9,207.0 L1061.7,206.3 L1064.5,206.3 L1067.2,207.1 L1070.0,209.1 L1072.8,208.3 L1075.6,208.2 L1078.3,209.5 L1081.1,208.7 L1083.9,210.2 L1086.7,209.3 L1089.4,210.2 L1092.2,210.8 L1095.0,211.9 L1097.8,213.3 L1100.5,214.2 L1103.3,214.2 L1106.1,215.5 L1108.9,217.7 L1111.6,219.9 L1114.4,221.1 L1117.2,222.7 L1120.0,224.3 L1122.7,227.3 L1125.5,229.4 L1128.3,231.1 L1131.1,233.7 L1133.8,236.5 L1136.6,237.9 L1139.4,240.0 L1142.2,242.5 L1144.9,243.6 L1147.7,245.8 L1150.5,247.6 L1153.3,248.9 L1156.0,250.3 L1158.8,251.4 L1161.6,252.4 L1164.4,253.0 L1167.1,253.7 L1169.9,253.9 L1172.7,253.5 L1175.5,253.1 L1178.2,252.1 L1181.0,252.7 L1183.8,252.0 L1186.6,251.2 L1189.3,250.5 L1192.1,248.8 L1194.9,247.7 L1197.7,246.7 L1200.4,244.1 L1203.2,244.3 L1206.0,242.8 L1208.8,240.7 L1211.5,239.4 L1214.3,238.7 L1217.1,236.6 L1219.9,235.6 L1222.6,234.0 L1225.4,232.3 L1228.2,230.7 L1230.9,229.1 L1233.7,227.4 L1236.5,226.2 L1239.3,224.7 L1242.0,222.1 L1244.8,221.8 L1247.6,220.5 L1250.4,217.6 L1253.1,216.8 L1255.9,214.9 L1258.7,213.4 L1261.5,211.4 L1264.2,209.4 L1267.0,208.4 L1269.8,206.6 L1272.6,205.0 L1275.3,202.8 L1278.1,201.4 L1280.9,200.1 L1283.7,197.6 L1286.4,196.4 L1289.2,194.2 L1292.0,193.6 L1294.8,192.4 L1297.5,189.4 L1300.3,188.0 L1303.1,186.6 L1305.9,184.5 L1308.6,183.5 L1311.4,181.6 L1314.2,179.8 L1317.0,178.7 L1319.7,177.0 L1322.5,176.2 L1325.3,174.1 L1328.1,172.1 L1330.8,170.3 L1333.6,168.1 L1336.4,166.6 L1339.2,165.0 L1341.9,164.0 L1344.7,162.4 L1347.5,160.2 L1350.3,159.1 L1353.0,157.5 L1355.8,155.8 L1358.6,154.7 L1361.4,152.8 L1364.1,151.1 L1366.9,149.7 L1369.7,148.5 L1372.5,146.5 L1375.2,145.3 L1378.0,144.4 L1380.8,143.2 L1383.6,141.6 L1386.3,139.9 L1389.1,138.2 L1391.9,137.8 L1394.7,135.9 L1397.4,134.5 L1400.2,134.0 L1403.0,132.2 L1405.8,130.9 L1408.5,130.2 L1411.3,129.3 L1414.1,128.0 L1416.9,126.1 L1419.6,125.7 L1422.4,124.5 L1425.2,123.5 L1428.0,122.9 L1430.7,121.9 L1433.5,120.2 L1436.3,120.1 L1439.0,118.9 L1441.8,117.9 L1444.6,116.9 L1447.4,116.5 L1450.1,115.9 L1452.9,114.6 L1455.7,113.6 L1458.5,114.3 L1461.2,113.4 L1464.0,112.5 L1466.8,112.0 L1469.6,110.6 L1472.3,109.9 L1475.1,109.2 L1477.9,109.2 L1480.7,110.0 L1483.4,108.9 L1486.2,107.6 L1489.0,107.8 L1491.8,107.4 L1494.5,107.0 L1497.3,105.8 L1500.1,105.5 L1502.9,104.9 L1505.6,105.0 L1508.4,105.1 L1511.2,104.4 L1514.0,104.2 L1516.7,104.3 L1519.5,103.6 L1522.3,103.2 L1525.1,103.6 L1527.8,102.7 L1530.6,103.7 L1533.4,102.9 L1536.2,102.8 L1538.9,102.6 L1541.7,103.7 L1544.5,103.8 L1547.3,103.4 L1550.0,103.6 L1552.8,104.0 L1555.6,103.6 L1558.4,103.0 L1561.1,103.2 L1563.9,103.5 L1566.7,103.0 L1569.5,104.0 L1572.2,104.4 L1575.0,105.0 L1577.8,105.3 L1580.6,106.0 L1583.3,105.7 L1586.1,106.3 L1588.9,107.0 L1591.7,107.0 L1594.4,107.4 L1597.2,107.2 L1600.0,108.3 L1602.8,108.9 L1605.5,109.9 L1608.3,110.1 L1611.1,110.8 L1613.9,111.8 L1616.6,111.4 L1619.4,112.4 L1622.2,112.6 L1625.0,113.6 L1627.7,114.4 L1630.5,115.0 L1633.3,116.3 L1636.1,116.5 L1638.8,117.4 L1641.6,118.4 L1644.4,119.2 L1647.1,120.2 L1649.9,120.8 L1652.7,122.4 L1655.5,123.2 L1658.2,124.1 L1661.0,125.0 L1663.8,125.8 L1666.6,126.9 L1669.3,128.1 L1672.1,129.5 L1674.9,130.3 L1677.7,131.0 L1680.4,132.3 L1683.2,133.0 L1686.0,134.6 L1688.8,135.7 L1691.5,137.0 L1694.3,138.2 L1697.1,139.2 L1699.9,140.7 L1702.6,142.2 L1705.4,143.8 L1708.2,145.2 L1711.0,146.2 L1713.7,147.3 L1716.5,148.9 L1719.3,149.0 L1722.1,150.5 L1724.8,150.4 L1727.6,149.7 L1730.4,149.4 L1733.2,149.7 L1735.9,150.2 L1738.7,151.8 L1741.5,152.8 L1744.3,153.7 L1747.0,155.2 L1749.8,156.7 L1752.6,157.9 L1755.4,159.6 L1758.1,160.9 L1760.9,162.9 L1763.7,164.1 L1766.5,165.0 L1769.2,167.2 L1772.0,169.4 L1774.8,170.5 L1777.6,171.6 L1780.3,172.7 L1783.1,174.6 L1785.9,176.6 L1788.7,177.9 L1791.4,178.6 L1794.2,180.8 L1797.0,181.6 L1799.8,183.6 L1802.5,185.1 L1805.3,186.6 L1808.1,187.9 L1810.9,189.0 L1813.6,190.4 L1816.4,192.3 L1819.2,193.6 L1822.0,195.5 L1824.7,196.4 L1827.5,198.1 L1830.3,199.1 L1833.1,200.3 L1835.8,202.3 L1838.6,202.5 L1841.4,203.9 L1844.2,206.0 L1846.9,207.5 L1849.7,208.3 L1852.5,209.2 L1855.2,210.6 L1858.0,212.3 L1860.8,212.1 L1863.6,213.1 L1866.3,214.9 L1869.1,216.0 L1871.9,217.5 L1874.7,218.8 L1877.4,219.9 L1880.2,221.4 L1883.0,222.4 L1885.8,223.4 L1888.5,224.7 L1891.3,225.8 L1894.1,226.9 L1896.9,228.8 L1899.6,229.6 L1902.4,230.1 L1905.2,232.3 L1908.0,232.9 L1910.7,233.4 L1913.5,234.5 L1916.3,235.0 L1919.1,236.2 L1921.8,237.4 L1924.6,239.2 L1927.4,241.0 L1930.2,241.4 L1932.9,242.0 L1935.7,242.9 L1938.5,244.2 L1941.3,245.0 L1944.0,245.1 L1946.8,246.0 L1949.6,247.2 L1952.4,248.7 L1955.1,249.1 L1957.9,249.0 L1960.7,251.2 L1963.5,252.8 L1966.2,253.1 L1969.0,253.5 L1971.8,254.8 L1974.6,255.8 L1977.3,256.4 L1980.1,256.8 L1982.9,257.1 L1985.7,259.1 L1988.4,259.2 L1991.2,260.5 L1994.0,260.5 L1996.8,261.2 L1999.5,263.4 L2002.3,262.6 L2005.1,263.9 L2007.9,264.5 L2010.6,266.0 L2013.4,266.1 L2016.2,266.9 L2019.0,268.4 L2021.7,268.0 L2024.5,268.7 L2027.3,269.5 L2030.1,269.5 L2032.8,270.7 L2035.6,271.0 L2038.4,272.4 L2041.2,272.4 L2043.9,272.1 L2046.7,273.0 L2049.5,273.6 L2052.3,275.1 L2055.0,274.9 L2057.8,276.2"/>
<path class="curve" stroke="#a8dcf8" d="M393.0,652.3 L395.8,642.7 L398.5,635.4 L401.3,627.3 L404.1,616.1 L406.9,608.4 L409.6,599.1 L412.4,590.7 L415.2,580.5 L418.0,572.9 L420.7,568.1 L423.5,562.3 L426.3,556.4 L429.1,552.1 L431.8,550.3 L434.6,550.1 L437.4,549.0 L440.2,547.8 L442.9,549.5 L445.7,550.3 L448.5,551.8 L451.3,553.9 L454.0,555.9 L456.8,557.4 L459.6,560.0 L462.4,561.2 L465.1,562.2 L467.9,563.3 L470.7,563.0 L473.5,560.8 L476.2,560.1 L479.0,557.8 L481.8,556.4 L484.6,554.5 L487.3,552.2 L490.1,552.8 L492.9,551.7 L495.7,547.6 L498.4,543.2 L501.2,540.3 L504.0,537.0 L506.8,533.4 L509.5,529.3 L512.3,524.0 L515.1,519.4 L517.9,515.4 L520.6,511.3 L523.4,503.9 L526.2,497.9 L529.0,492.1 L531.7,486.3 L534.5,478.9 L537.3,471.9 L540.1,468.6 L542.8,464.0 L545.6,459.1 L548.4,455.9 L551.2,454.5 L553.9,455.2 L556.7,452.5 L559.5,449.9 L562.3,446.8 L565.0,445.4 L567.8,444.4 L570.6,442.5 L573.4,441.2 L576.1,441.2 L578.9,439.9 L581.7,437.7 L584.5,435.1 L587.2,435.1 L590.0,433.3 L592.8,431.7 L595.6,430.0 L598.3,428.5 L601.1,427.2 L603.9,423.4 L606.6,422.6 L609.4,419.1 L612.2,416.9 L615.0,414.3 L617.7,413.6 L620.5,410.4 L623.3,408.0 L626.1,404.2 L628.8,403.0 L631.6,400.2 L634.4,396.2 L637.2,392.5 L639.9,386.6 L642.7,381.2 L645.5,379.8 L648.3,376.4 L651.0,371.2 L653.8,365.7 L656.6,363.1 L659.4,358.6 L662.1,354.8 L664.9,351.7 L667.7,350.6 L670.5,347.7 L673.2,343.7 L676.0,340.8 L678.8,338.2 L681.6,335.8 L684.3,333.2 L687.1,329.9 L689.9,328.2 L692.7,327.0 L695.4,326.1 L698.2,324.1 L701.0,321.9 L703.8,319.7 L706.5,318.8 L709.3,317.4 L712.1,315.4 L714.9,312.6 L717.6,308.6 L720.4,306.7 L723.2,305.6 L726.0,299.5 L728.7,297.9 L731.5,295.9 L734.3,292.9 L737.1,290.9 L739.8,290.1 L742.6,289.9 L745.4,289.7 L748.2,286.5 L750.9,284.0 L753.7,283.2 L756.5,283.3 L759.3,282.0 L762.0,282.2 L764.8,287.0 L767.6,282.0 L770.4,281.4 L773.1,280.1 L775.9,279.1 L778.7,278.9 L781.5,280.7 L784.2,280.8 L787.0,280.8 L789.8,280.9 L792.6,282.5 L795.3,282.3 L798.1,280.2 L800.9,280.2 L803.7,280.5 L806.4,280.6 L809.2,280.1 L812.0,281.6 L814.7,280.8 L817.5,280.6 L820.3,279.0 L823.1,276.7 L825.8,277.5 L828.6,279.1 L831.4,278.9 L834.2,278.2 L836.9,278.6 L839.7,278.1 L842.5,276.9 L845.3,275.6 L848.0,274.8 L850.8,276.9 L853.6,278.3 L856.4,277.5 L859.1,277.1 L861.9,277.6 L864.7,274.4 L867.5,273.4 L870.2,274.4 L873.0,273.4 L875.8,273.0 L878.6,271.5 L881.3,271.2 L884.1,271.0 L886.9,271.4 L889.7,269.4 L892.4,270.6 L895.2,268.8 L898.0,267.3 L900.8,267.2 L903.5,266.8 L906.3,268.1 L909.1,268.3 L911.9,265.5 L914.6,264.8 L917.4,263.9 L920.2,264.1 L923.0,263.9 L925.7,264.2 L928.5,262.1 L931.3,262.6 L934.1,261.4 L936.8,261.2 L939.6,260.4 L942.4,260.1 L945.2,258.8 L947.9,259.5 L950.7,259.0 L953.5,257.3 L956.3,257.8 L959.0,258.0 L961.8,257.0 L964.6,256.7 L967.4,256.8 L970.1,257.3 L972.9,257.1 L975.7,256.0 L978.5,256.3 L981.2,255.0 L984.0,256.9 L986.8,255.7 L989.6,256.2 L992.3,254.9 L995.1,254.6 L997.9,254.9 L1000.7,254.5 L1003.4,253.0 L1006.2,253.2 L1009.0,253.3 L1011.8,252.9 L1014.5,252.6 L1017.3,252.4 L1020.1,252.5 L1022.8,253.1 L1025.6,252.9 L1028.4,252.8 L1031.2,252.8 L1033.9,254.2 L1036.7,253.8 L1039.5,255.0 L1042.3,254.2 L1045.0,254.1 L1047.8,254.9 L1050.6,255.4 L1053.4,255.9 L1056.1,256.6 L1058.9,257.3 L1061.7,258.5 L1064.5,257.9 L1067.2,258.2 L1070.0,259.0 L1072.8,261.0 L1075.6,260.9 L1078.3,261.8 L1081.1,263.2 L1083.9,263.2 L1086.7,263.2 L1089.4,265.5 L1092.2,267.6 L1095.0,269.8 L1097.8,271.0 L1100.5,271.8 L1103.3,273.6 L1106.1,275.6 L1108.9,277.7 L1111.6,280.9 L1114.4,282.3 L1117.2,284.3 L1120.0,286.3 L1122.7,288.5 L1125.5,291.3 L1128.3,293.9 L1131.1,295.5 L1133.8,297.7 L1136.6,299.3 L1139.4,301.2 L1142.2,303.1 L1144.9,305.5 L1147.7,307.4 L1150.5,308.1 L1153.3,308.5 L1156.0,309.0 L1158.8,310.1 L1161.6,309.7 L1164.4,309.7 L1167.1,310.6 L1169.9,309.8 L1172.7,310.4 L1175.5,309.8 L1178.2,309.5 L1181.0,308.0 L1183.8,308.0 L1186.6,307.3 L1189.3,306.3 L1192.1,304.4 L1194.9,303.5 L1197.7,302.1 L1200.4,301.9 L1203.2,300.1 L1206.0,298.6 L1208.8,297.5 L1211.5,295.4 L1214.3,294.0 L1217.1,292.2 L1219.9,290.7 L1222.6,288.0 L1225.4,287.4 L1228.2,285.3 L1230.9,283.1 L1233.7,282.1 L1236.5,280.5 L1239.3,277.5 L1242.0,275.7 L1244.8,273.8 L1247.6,271.9 L1250.4,269.1 L1253.1,267.5 L1255.9,265.3 L1258.7,263.6 L1261.5,261.1 L1264.2,259.2 L1267.0,257.2 L1269.8,255.2 L1272.6,253.5 L1275.3,251.5 L1278.1,249.0 L1280.9,247.3 L1283.7,245.7 L1286.4,244.3 L1289.2,242.7 L1292.0,240.3 L1294.8,238.8 L1297.5,237.5 L1300.3,235.5 L1303.1,233.4 L1305.9,231.6 L1308.6,229.8 L1311.4,229.2 L1314.2,227.2 L1317.0,225.2 L1319.7,223.8 L1322.5,222.8 L1325.3,221.2 L1328.1,219.7 L1330.8,218.0 L1333.6,215.9 L1336.4,214.3 L1339.2,213.1 L1341.9,211.4 L1344.7,210.1 L1347.5,208.4 L1350.3,207.0 L1353.0,205.9 L1355.8,203.8 L1358.6,202.3 L1361.4,201.5 L1364.1,199.0 L1366.9,198.0 L1369.7,196.4 L1372.5,194.8 L1375.2,194.0 L1378.0,191.5 L1380.8,189.4 L1383.6,189.2 L1386.3,188.0 L1389.1,185.2 L1391.9,184.3 L1394.7,182.8 L1397.4,181.4 L1400.2,180.1 L1403.0,178.5 L1405.8,176.9 L1408.5,174.6 L1411.3,173.3 L1414.1,172.8 L1416.9,171.3 L1419.6,170.0 L1422.4,168.7 L1425.2,166.3 L1428.0,164.8 L1430.7,164.0 L1433.5,163.3 L1436.3,161.9 L1439.0,160.1 L1441.8,159.2 L1444.6,158.2 L1447.4,157.0 L1450.1,156.0 L1452.9,155.4 L1455.7,153.9 L1458.5,152.8 L1461.2,151.7 L1464.0,151.5 L1466.8,150.2 L1469.6,148.9 L1472.3,148.1 L1475.1,147.5 L1477.9,146.2 L1480.7,145.9 L1483.4,144.2 L1486.2,143.3 L1489.0,142.7 L1491.8,141.8 L1494.5,141.8 L1497.3,141.0 L1500.1,140.6 L1502.9,140.3 L1505.6,138.9 L1508.4,138.8 L1511.2,137.9 L1514.0,137.8 L1516.7,137.4 L1519.5,136.4 L1522.3,136.1 L1525.1,135.4 L1527.8,135.4 L1530.6,134.2 L1533.4,133.8 L1536.2,132.8 L1538.9,132.6 L1541.7,132.8 L1544.5,132.5 L1547.3,132.2 L1550.0,132.6 L1552.8,131.4 L1555.6,130.2 L1558.4,130.3 L1561.1,130.2 L1563.9,129.2 L1566.7,128.8 L1569.5,129.4 L1572.2,128.7 L1575.0,127.5 L1577.8,127.9 L1580.6,127.9 L1583.3,127.7 L1586.1,127.4 L1588.9,127.1 L1591.7,126.5 L1594.4,126.4 L1597.2,126.4 L1600.0,126.1 L1602.8,126.3 L1605.5,125.4 L1608.3,125.6 L1611.1,125.6 L1613.9,125.4 L1616.6,125.2 L1619.4,124.8 L1622.2,124.6 L1625.0,124.1 L1627.7,124.4 L1630.5,124.9 L1633.3,125.1 L1636.1,124.0 L1638.8,123.9 L1641.6,125.1 L1644.4,124.1 L1647.1,124.9 L1649.9,124.9 L1652.7,124.8 L1655.5,124.2 L1658.2,124.4 L1661.0,124.5 L1663.8,124.2 L1666.6,124.9 L1669.3,123.8 L1672.1,124.3 L1674.9,124.3 L1677.7,124.9 L1680.4,125.4 L1683.2,125.0 L1686.0,125.4 L1688.8,124.9 L1691.5,126.1 L1694.3,125.8 L1697.1,126.3 L1699.9,126.4 L1702.6,126.7 L1705.4,127.3 L1708.2,127.6 L1711.0,128.3 L1713.7,128.9 L1716.5,127.7 L1719.3,127.4 L1722.1,127.7 L1724.8,126.1 L1727.6,126.7 L1730.4,125.7 L1733.2,124.8 L1735.9,123.9 L1738.7,122.7 L1741.5,122.5 L1744.3,122.3 L1747.0,123.2 L1749.8,124.4 L1752.6,123.7 L1755.4,123.9 L1758.1,124.5 L1760.9,124.0 L1763.7,125.6 L1766.5,127.0 L1769.2,127.3 L1772.0,128.0 L1774.8,129.0 L1777.6,129.6 L1780.3,130.0 L1783.1,130.4 L1785.9,131.5 L1788.7,131.2 L1791.4,132.1 L1794.2,133.2 L1797.0,133.9 L1799.8,134.6 L1802.5,134.1 L1805.3,134.7 L1808.1,135.9 L1810.9,136.0 L1813.6,137.6 L1816.4,138.3 L1819.2,138.9 L1822.0,138.8 L1824.7,139.7 L1827.5,140.1 L1830.3,140.2 L1833.1,141.3 L1835.8,142.7 L1838.6,143.0 L1841.4,143.3 L1844.2,144.3 L1846.9,145.6 L1849.7,145.5 L1852.5,146.3 L1855.2,147.0 L1858.0,146.5 L1860.8,147.6 L1863.6,148.5 L1866.3,149.6 L1869.1,149.9 L1871.9,150.5 L1874.7,150.5 L1877.4,151.3 L1880.2,153.1 L1883.0,153.5 L1885.8,154.5 L1888.5,154.1 L1891.3,155.1 L1894.1,156.1 L1896.9,156.2 L1899.6,156.8 L1902.4,156.6 L1905.2,156.9 L1908.0,157.9 L1910.7,158.3 L1913.5,159.1 L1916.3,160.5 L1919.1,161.1 L1921.8,162.4 L1924.6,163.2 L1927.4,163.6 L1930.2,163.8 L1932.9,164.1 L1935.7,165.0 L1938.5,164.6 L1941.3,165.5 L1944.0,167.0 L1946.8,167.1 L1949.6,168.1 L1952.4,168.5 L1955.1,169.0 L1957.9,169.8 L1960.7,169.9 L1963.5,170.0 L1966.2,170.8 L1969.0,171.8 L1971.8,171.7 L1974.6,173.3 L1977.3,173.3 L1980.1,173.9 L1982.9,174.7 L1985.7,175.2 L1988.4,174.8 L1991.2,175.6 L1994.0,175.7 L1996.8,176.7 L1999.5,177.4 L2002.3,177.8 L2005.1,178.1 L2007.9,178.3 L2010.6,178.7 L2013.4,178.4 L2016.2,179.8 L2019.0,180.5 L2021.7,181.2 L2024.5,181.7 L2027.3,181.7 L2030.1,182.2 L2032.8,182.6 L2035.6,183.3 L2038.4,183.5 L2041.2,184.6 L2043.9,184.8 L2046.7,184.0 L2049.5,184.3 L2052.3,184.6 L2055.0,185.3 L2057.8,185.6"/>
<path class="curve" stroke="#ffb8cb" d="M393.0,638.7 L395.8,627.3 L398.5,617.9 L401.3,605.3 L404.1,594.3 L406.9,580.2 L409.6,565.7 L412.4,559.4 L415.2,554.3 L418.0,549.2 L420.7,542.0 L423.5,538.9 L426.3,535.6 L429.1,533.4 L431.8,532.8 L434.6,531.9 L437.4,529.4 L440.2,528.8 L442.9,528.4 L445.7,532.0 L448.5,535.1 L451.3,540.8 L454.0,543.0 L456.8,546.9 L459.6,548.6 L462.4,551.7 L465.1,553.8 L467.9,555.9 L470.7,557.7 L473.5,558.8 L476.2,558.7 L479.0,558.6 L481.8,558.8 L484.6,558.5 L487.3,557.5 L490.1,555.7 L492.9,555.7 L495.7,552.6 L498.4,549.3 L501.2,548.1 L504.0,545.0 L506.8,543.5 L509.5,538.8 L512.3,533.3 L515.1,528.4 L517.9,523.3 L520.6,516.9 L523.4,511.0 L526.2,507.3 L529.0,500.1 L531.7,493.5 L534.5,486.6 L537.3,481.9 L540.1,476.7 L542.8,472.3 L545.6,466.3 L548.4,462.0 L551.2,457.7 L553.9,456.0 L556.7,451.9 L559.5,447.9 L562.3,447.4 L565.0,447.2 L567.8,443.6 L570.6,441.7 L573.4,438.3 L576.1,434.4 L578.9,432.2 L581.7,431.6 L584.5,429.2 L587.2,427.6 L590.0,426.8 L592.8,424.8 L595.6,423.5 L598.3,419.7 L601.1,418.6 L603.9,419.2 L606.6,415.3 L609.4,410.3 L612.2,407.5 L615.0,403.9 L617.7,401.3 L620.5,399.7 L623.3,395.3 L626.1,393.8 L628.8,389.0 L631.6,387.4 L634.4,383.5 L637.2,379.2 L639.9,375.4 L642.7,371.1 L645.5,366.4 L648.3,362.3 L651.0,358.2 L653.8,353.6 L656.6,348.5 L659.4,345.2 L662.1,341.3 L664.9,334.7 L667.7,330.5 L670.5,327.2 L673.2,327.1 L676.0,324.1 L678.8,321.4 L681.6,318.7 L684.3,317.9 L687.1,315.1 L689.9,312.9 L692.7,309.9 L695.4,307.0 L698.2,306.2 L701.0,305.3 L703.8,303.9 L706.5,303.1 L709.3,300.6 L712.1,297.2 L714.9,296.5 L717.6,295.2 L720.4,291.9 L723.2,290.1 L726.0,288.1 L728.7,283.8 L731.5,281.5 L734.3,279.9 L737.1,278.6 L739.8,275.5 L742.6,274.3 L745.4,273.9 L748.2,271.3 L750.9,271.8 L753.7,270.8 L756.5,270.1 L759.3,269.3 L762.0,268.1 L764.8,266.5 L767.6,265.8 L770.4,264.2 L773.1,266.3 L775.9,267.2 L778.7,265.9 L781.5,266.4 L784.2,271.7 L787.0,270.2 L789.8,269.9 L792.6,268.8 L795.3,268.3 L798.1,268.2 L800.9,268.0 L803.7,267.5 L806.4,264.6 L809.2,263.5 L812.0,266.2 L814.7,266.0 L817.5,264.6 L820.3,262.1 L823.1,262.4 L825.8,264.5 L828.6,266.3 L831.4,266.1 L834.2,264.7 L836.9,264.1 L839.7,263.1 L842.5,262.4 L845.3,262.0 L848.0,264.2 L850.8,263.3 L853.6,262.2 L856.4,262.8 L859.1,263.4 L861.9,263.0 L864.7,262.1 L867.5,262.0 L870.2,261.5 L873.0,259.2 L875.8,258.9 L878.6,259.2 L881.3,257.6 L884.1,256.3 L886.9,256.1 L889.7,255.1 L892.4,255.7 L895.2,255.6 L898.0,255.5 L900.8,255.3 L903.5,255.1 L906.3,255.4 L909.1,254.5 L911.9,253.3 L914.6,252.6 L917.4,250.8 L920.2,251.2 L923.0,252.1 L925.7,251.1 L928.5,249.7 L931.3,248.1 L934.1,248.1 L936.8,248.9 L939.6,247.1 L942.4,246.5 L945.2,246.8 L947.9,246.7 L950.7,245.8 L953.5,245.4 L956.3,243.7 L959.0,244.2 L961.8,243.0 L964.6,242.7 L967.4,241.1 L970.1,241.9 L972.9,241.4 L975.7,241.4 L978.5,240.2 L981.2,239.5 L984.0,240.0 L986.8,240.5 L989.6,239.6 L992.3,239.0 L995.1,239.0 L997.9,239.7 L1000.7,238.4 L1003.4,237.4 L1006.2,238.5 L1009.0,237.5 L1011.8,237.0 L1014.5,235.5 L1017.3,235.9 L1020.1,236.3 L1022.8,236.6 L1025.6,236.6 L1028.4,237.3 L1031.2,237.1 L1033.9,236.9 L1036.7,237.0 L1039.5,239.1 L1042.3,239.4 L1045.0,240.9 L1047.8,240.8 L1050.6,239.5 L1053.4,240.7 L1056.1,241.3 L1058.9,241.7 L1061.7,240.9 L1064.5,241.8 L1067.2,242.6 L1070.0,244.3 L1072.8,244.5 L1075.6,244.7 L1078.3,245.8 L1081.1,247.3 L1083.9,247.8 L1086.7,249.2 L1089.4,251.2 L1092.2,253.1 L1095.0,254.0 L1097.8,255.1 L1100.5,256.0 L1103.3,257.6 L1106.1,259.3 L1108.9,262.7 L1111.6,265.0 L1114.4,267.4 L1117.2,271.2 L1120.0,273.3 L1122.7,276.8 L1125.5,279.5 L1128.3,282.6 L1131.1,285.2 L1133.8,288.8 L1136.6,291.9 L1139.4,293.8 L1142.2,297.6 L1144.9,299.3 L1147.7,301.6 L1150.5,303.5 L1153.3,305.6 L1156.0,306.8 L1158.8,307.3 L1161.6,308.1 L1164.4,309.0 L1167.1,308.9 L1169.9,308.9 L1172.7,309.0 L1175.5,309.2 L1178.2,307.8 L1181.0,307.1 L1183.8,307.0 L1186.6,305.6 L1189.3,304.2 L1192.1,303.7 L1194.9,301.9 L1197.7,300.1 L1200.4,298.6 L1203.2,298.0 L1206.0,295.8 L1208.8,294.5 L1211.5,292.2 L1214.3,289.7 L1217.1,288.4 L1219.9,285.9 L1222.6,283.8 L1225.4,280.6 L1228.2,278.2 L1230.9,276.2 L1233.7,273.8 L1236.5,272.1 L1239.3,269.5 L1242.0,266.3 L1244.8,264.0 L1247.6,260.5 L1250.4,258.8 L1253.1,256.4 L1255.9,253.2 L1258.7,250.6 L1261.5,248.6 L1264.2,246.0 L1267.0,244.1 L1269.8,240.7 L1272.6,238.7 L1275.3,236.8 L1278.1,234.3 L1280.9,231.4 L1283.7,228.5 L1286.4,226.4 L1289.2,224.5 L1292.0,222.0 L1294.8,219.8 L1297.5,217.4 L1300.3,215.4 L1303.1,214.2 L1305.9,211.8 L1308.6,208.5 L1311.4,207.5 L1314.2,205.8 L1317.0,203.1 L1319.7,201.1 L1322.5,199.5 L1325.3,197.7 L1328.1,195.9 L1330.8,194.1 L1333.6,193.4 L1336.4,190.6 L1339.2,189.4 L1341.9,187.8 L1344.7,185.9 L1347.5,184.5 L1350.3,183.0 L1353.0,180.7 L1355.8,179.6 L1358.6,178.0 L1361.4,175.5 L1364.1,173.2 L1366.9,172.5 L1369.7,171.2 L1372.5,169.2 L1375.2,167.9 L1378.0,167.0 L1380.8,164.9 L1383.6,163.5 L1386.3,161.6 L1389.1,160.1 L1391.9,158.7 L1394.7,157.4 L1397.4,155.9 L1400.2,154.6 L1403.0,153.1 L1405.8,151.9 L1408.5,150.5 L1411.3,148.9 L1414.1,147.2 L1416.9,145.4 L1419.6,144.2 L1422.4,143.7 L1425.2,142.3 L1428.0,140.9 L1430.7,139.5 L1433.5,138.6 L1436.3,137.4 L1439.0,136.7 L1441.8,135.3 L1444.6,133.8 L1447.4,132.7 L1450.1,132.1 L1452.9,132.1 L1455.7,130.2 L1458.5,128.6 L1461.2,128.2 L1464.0,127.8 L1466.8,127.1 L1469.6,126.3 L1472.3,125.5 L1475.1,124.5 L1477.9,123.7 L1480.7,122.6 L1483.4,122.4 L1486.2,121.8 L1489.0,121.7 L1491.8,120.1 L1494.5,120.4 L1497.3,119.2 L1500.1,119.0 L1502.9,118.3 L1505.6,118.6 L1508.4,118.0 L1511.2,117.3 L1514.0,117.4 L1516.7,116.4 L1519.5,115.7 L1522.3,115.2 L1525.1,115.4 L1527.8,115.1 L1530.6,114.4 L1533.4,114.4 L1536.2,114.4 L1538.9,113.8 L1541.7,114.4 L1544.5,113.2 L1547.3,113.1 L1550.0,113.3 L1552.8,114.0 L1555.6,113.0 L1558.4,112.2 L1561.1,111.5 L1563.9,111.7 L1566.7,111.7 L1569.5,112.2 L1572.2,111.5 L1575.0,111.2 L1577.8,111.4 L1580.6,111.4 L1583.3,110.4 L1586.1,110.7 L1588.9,111.0 L1591.7,111.4 L1594.4,111.7 L1597.2,111.2 L1600.0,110.8 L1602.8,110.3 L1605.5,110.8 L1608.3,109.8 L1611.1,110.3 L1613.9,110.6 L1616.6,110.2 L1619.4,109.8 L1622.2,110.2 L1625.0,109.9 L1627.7,109.8 L1630.5,110.1 L1633.3,110.2 L1636.1,111.5 L1638.8,110.4 L1641.6,110.9 L1644.4,110.2 L1647.1,111.3 L1649.9,111.1 L1652.7,110.7 L1655.5,110.5 L1658.2,110.7 L1661.0,110.4 L1663.8,111.4 L1666.6,111.2 L1669.3,112.6 L1672.1,112.9 L1674.9,113.0 L1677.7,113.1 L1680.4,113.1 L1683.2,112.5 L1686.0,113.2 L1688.8,113.7 L1691.5,113.8 L1694.3,114.4 L1697.1,114.5 L1699.9,114.5 L1702.6,115.1 L1705.4,115.8 L1708.2,115.7 L1711.0,115.9 L1713.7,115.9 L1716.5,115.8 L1719.3,115.7 L1722.1,115.4 L1724.8,114.0 L1727.6,113.4 L1730.4,112.3 L1733.2,111.7 L1735.9,111.1 L1738.7,110.4 L1741.5,109.7 L1744.3,108.6 L1747.0,108.6 L1749.8,108.9 L1752.6,108.8 L1755.4,110.2 L1758.1,109.3 L1760.9,110.2 L1763.7,109.9 L1766.5,110.6 L1769.2,111.5 L1772.0,112.3 L1774.8,112.6 L1777.6,114.2 L1780.3,114.3 L1783.1,114.9 L1785.9,113.9 L1788.7,115.6 L1791.4,116.9 L1794.2,116.9 L1797.0,116.1 L1799.8,116.3 L1802.5,116.9 L1805.3,118.1 L1808.1,117.7 L1810.9,118.3 L1813.6,119.4 L1816.4,119.1 L1819.2,119.5 L1822.0,119.8 L1824.7,121.3 L1827.5,120.9 L1830.3,121.6 L1833.1,121.8 L1835.8,122.5 L1838.6,123.0 L1841.4,123.0 L1844.2,123.3 L1846.9,123.1 L1849.7,124.0 L1852.5,124.4 L1855.2,124.7 L1858.0,124.0 L1860.8,125.3 L1863.6,125.4 L1866.3,125.3 L1869.1,125.9 L1871.9,126.9 L1874.7,127.5 L1877.4,128.0 L1880.2,127.2 L1883.0,127.3 L1885.8,127.9 L1888.5,129.1 L1891.3,129.0 L1894.1,128.7 L1896.9,129.5 L1899.6,129.8 L1902.4,130.1 L1905.2,130.2 L1908.0,130.0 L1910.7,130.6 L1913.5,131.8 L1916.3,131.3 L1919.1,131.7 L1921.8,131.2 L1924.6,131.2 L1927.4,131.4 L1930.2,132.7 L1932.9,133.0 L1935.7,133.4 L1938.5,133.7 L1941.3,133.3 L1944.0,133.2 L1946.8,133.4 L1949.6,134.0 L1952.4,134.6 L1955.1,135.0 L1957.9,135.2 L1960.7,134.7 L1963.5,134.9 L1966.2,134.2 L1969.0,135.4 L1971.8,136.5 L1974.6,136.0 L1977.3,137.0 L1980.1,137.8 L1982.9,138.0 L1985.7,137.2 L1988.4,137.1 L1991.2,137.7 L1994.0,137.8 L1996.8,137.8 L1999.5,138.0 L2002.3,138.5 L2005.1,138.8 L2007.9,138.8 L2010.6,138.9 L2013.4,139.3 L2016.2,139.6 L2019.0,139.6 L2021.7,139.2 L2024.5,139.1 L2027.3,139.5 L2030.1,138.5 L2032.8,139.5 L2035.6,140.0 L2038.4,140.7 L2041.2,140.0 L2043.9,140.1 L2046.7,141.3 L2049.5,141.4 L2052.3,140.8 L2055.0,141.5 L2057.8,141.7"/>
</g>
<g id="axes" stroke="#000" stroke-width="5.3" fill="none" stroke-linecap="round">
<rect x="254.5" y="35.3" width="1942.5" height="1433.5" stroke-linejoin="round"/>
<line x1="256.0" y1="1362.9" x2="283.0" y2="1362.9"/>
<line x1="256.0" y1="941.4" x2="283.0" y2="941.4"/>
<line x1="256.0" y1="519.8" x2="283.0" y2="519.8"/>
<line x1="256.0" y1="98.3" x2="283.0" y2="98.3"/>
<line x1="393.0" y1="1467.3" x2="393.0" y2="1439.5"/>
<line x1="670.5" y1="1467.3" x2="670.5" y2="1439.5"/>
<line x1="947.9" y1="1467.3" x2="947.9" y2="1439.5"/>
<line x1="1225.4" y1="1467.3" x2="1225.4" y2="1439.5"/>
<line x1="1502.9" y1="1467.3" x2="1502.9" y2="1439.5"/>
<line x1="1780.3" y1="1467.3" x2="1780.3" y2="1439.5"/>
<line x1="2057.8" y1="1467.3" x2="2057.8" y2="1439.5"/>
</g>
<g id="ticklabels" class="tick">
<text x="222.3" y="1377.8" text-anchor="end">0</text>
<text x="222.3" y="956.3" text-anchor="end">2</text>
<text x="222.3" y="534.7" text-anchor="end">4</text>
<text x="222.3" y="113.2" text-anchor="end">6</text>
<text x="393.0" y="1544.3" text-anchor="middle">200</text>
<text x="670.5" y="1544.3" text-anchor="middle">300</text>
<text x="947.9" y="1544.3" text-anchor="middle">400</text>
<text x="1225.4" y="1544.3" text-anchor="middle">500</text>
<text x="1502.9" y="1544.3" text-anchor="middle">600</text>
<text x="1780.3" y="1544.3" text-anchor="middle">700</text>
<text x="2057.8" y="1544.3" text-anchor="middle">800</text>
</g>
<text class="title" x="1225.3" y="1658.2" text-anchor="middle">Wavelength / nm</text>
<g transform="translate(77.9,829.9) rotate(-90)"><text class="title" x="0" y="0">F(R</text><text x="116.3" y="31.4" font-family="'Liberation Serif','DejaVu Serif',serif" font-size="57.5px" stroke="#ffffff" stroke-width="0.9" paint-order="fill stroke">∞</text><text class="title" x="157.6" y="0">)</text></g>
<g id="legend">
<line x1="333.4" y1="881.6" x2="440.7" y2="881.6" stroke="#000000" stroke-width="5.4" stroke-linecap="round"/>
<text class="leg" x="454.2" y="897.8">P25</text>
<line x1="333.4" y1="940.9" x2="440.7" y2="940.9" stroke="#ff0000" stroke-width="5.4" stroke-linecap="round"/>
<text class="leg" x="454.2" y="957.1">PANI-ES</text>
<line x1="333.4" y1="1000.6" x2="440.7" y2="1000.6" stroke="#00ff00" stroke-width="5.4" stroke-linecap="round"/>
<text class="leg" x="454.2" y="1016.8">PT1100</text>
<line x1="333.4" y1="1059.2" x2="440.7" y2="1059.2" stroke="#ff4d2e" stroke-width="5.4" stroke-linecap="round"/>
<text class="leg" x="454.2" y="1075.4">PT150</text>
<line x1="333.4" y1="1118.7" x2="440.7" y2="1118.7" stroke="#b9b9b9" stroke-width="5.4" stroke-linecap="round"/>
<text class="leg" x="454.2" y="1134.9">PT110</text>
<line x1="333.4" y1="1178.1" x2="440.7" y2="1178.1" stroke="#0000ff" stroke-width="5.4" stroke-linecap="round"/>
<text class="leg" x="454.2" y="1194.3">PT11</text>
<line x1="333.4" y1="1237.1" x2="440.7" y2="1237.1" stroke="#007800" stroke-width="5.4" stroke-linecap="round"/>
<text class="leg" x="454.2" y="1253.3">PT101</text>
<line x1="333.4" y1="1296.2" x2="440.7" y2="1296.2" stroke="#a8dcf8" stroke-width="5.4" stroke-linecap="round"/>
<text class="leg" x="454.2" y="1312.4">PT501</text>
<line x1="333.4" y1="1354.4" x2="440.7" y2="1354.4" stroke="#ffb8cb" stroke-width="5.4" stroke-linecap="round"/>
<text class="leg" x="454.2" y="1370.6">PT1001</text>
</g>
</svg>
</body></html>
